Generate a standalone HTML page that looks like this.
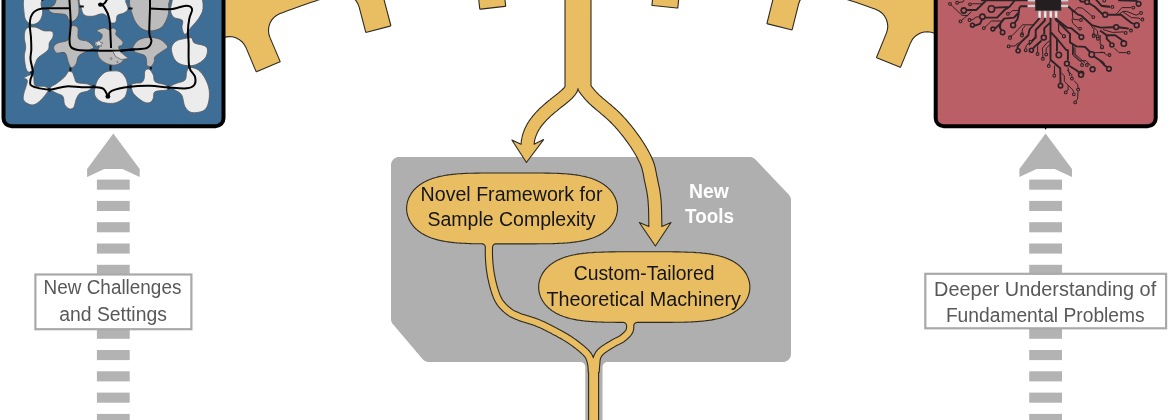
<!DOCTYPE html>
<html><head><meta charset="utf-8"><style>
html,body{margin:0;padding:0;background:#fff;}
svg{display:block;will-change:transform;}
text{font-family:"Liberation Sans",sans-serif;}
</style></head><body>
<svg width="1170" height="420" viewBox="0 0 1170 420">
<rect width="1170" height="420" fill="#fff"/>
<!-- gray tools box -->
<path d="M397.2 157.2 L396.2 157.5 L395.7 157.7 L394.8 158.2 L394.4 158.5 L393.5 159.2 L393.2 159.5 L392.5 160.4 L392.2 160.8 L391.7 161.7 L391.5 162.2 L391.2 163.2 L391.1 163.7 L391.0 164.9 L391.0 165.1 L391.0 318.9 L391.0 319.2 L391.1 320.2 L391.2 320.7 L391.4 321.6 L391.6 322.0 L392.0 322.9 L392.2 323.3 L392.8 324.2 L393.0 324.3 L422.5 359.1 L422.7 359.3 L423.7 360.2 L424.1 360.5 L425.1 361.1 L425.6 361.3 L426.7 361.7 L427.2 361.8 L428.6 362.0 L428.8 362.0 L580.3 362.0 L581.3 362.1 L582.2 362.4 L583.1 362.8 L583.8 363.5 L584.5 364.2 L584.9 365.1 L585.2 366.0 L585.3 367.0 L585.3 425.0 L602.5 425.0 L602.5 367.0 L602.6 366.0 L602.9 365.1 L603.3 364.2 L604.0 363.5 L604.7 362.8 L605.6 362.4 L606.5 362.1 L607.5 362.0 L782.9 362.0 L783.1 362.0 L784.3 361.9 L784.8 361.8 L785.8 361.5 L786.3 361.3 L787.2 360.8 L787.6 360.5 L788.5 359.8 L788.8 359.5 L789.5 358.6 L789.8 358.2 L790.3 357.3 L790.5 356.8 L790.8 355.8 L790.9 355.3 L791.0 354.1 L791.0 353.9 L791.0 200.3 L791.0 200.1 L790.9 198.9 L790.8 198.5 L790.5 197.5 L790.3 197.0 L789.8 196.1 L789.6 195.7 L788.9 194.8 L788.7 194.6 L755.5 159.6 L755.3 159.4 L754.3 158.6 L753.9 158.3 L752.9 157.8 L752.5 157.6 L751.4 157.2 L750.9 157.1 L749.7 157.0 L749.4 157.0 L399.1 157.0 L398.9 157.0 L397.7 157.1Z" fill="#afafaf"/>
<!-- gear + top branches -->
<path d="M154.5 73.6 L154.6 73.5 L159.0 71.0 L159.1 70.9 L163.6 68.4 L163.7 68.3 L168.1 65.8 L168.2 65.8 L172.7 63.3 L172.8 63.2 L177.3 60.8 L177.4 60.7 L181.9 58.3 L182.0 58.2 L186.5 55.8 L186.6 55.8 L191.1 53.4 L191.2 53.4 L195.8 51.0 L195.9 51.0 L200.4 48.7 L200.5 48.6 L205.1 46.3 L205.2 46.3 L209.8 44.0 L209.9 44.0 L214.5 41.7 L214.6 41.7 L219.2 39.5 L219.3 39.4 L221.7 38.3 L225.1 37.1 L228.7 36.6 L232.3 36.8 L235.8 37.8 L239.0 39.4 L241.9 41.7 L244.2 44.4 L246.0 47.6 L255.9 71.1 L256.3 71.8 L257.1 71.5 L279.4 62.1 L280.1 61.7 L279.9 60.9 L269.9 37.4 L268.8 34.0 L268.5 30.4 L268.8 26.8 L269.9 23.3 L271.6 20.2 L274.0 17.4 L276.8 15.2 L280.0 13.6 L281.8 12.9 L281.9 12.9 L286.7 11.1 L286.8 11.0 L291.6 9.3 L291.7 9.2 L296.5 7.5 L296.6 7.4 L301.4 5.7 L301.5 5.7 L306.3 4.0 L306.4 4.0 L311.3 2.3 L311.4 2.3 L316.3 0.7 L316.4 0.6 L321.2 -0.9 L321.3 -1.0 L326.2 -2.5 L326.3 -2.6 L331.2 -4.1 L331.3 -4.1 L334.1 -5.0 L150.0 -5.0 L150.0 75.4 L150.1 76.1 L150.7 75.8ZM350.5 -4.2 L353.4 -2.1 L355.9 0.5 L357.8 3.6 L359.1 6.9 L365.6 31.6 L365.9 32.4 L366.7 32.3 L390.1 26.1 L390.8 25.8 L390.7 25.0 L384.2 0.3 L383.7 -3.2 L383.7 -5.0 L348.6 -5.0ZM479.7 8.4 L479.9 9.2 L480.7 9.1 L504.8 6.4 L505.6 6.3 L505.6 5.4 L504.4 -5.0 L478.2 -5.0ZM565.0 70.0 L565.0 86.6 L564.9 86.7 L564.6 87.1 L564.3 87.5 L563.9 88.0 L563.4 88.5 L562.9 89.0 L562.4 89.5 L561.7 90.1 L561.1 90.7 L560.3 91.4 L559.6 92.0 L558.8 92.7 L557.9 93.4 L557.0 94.1 L556.1 94.8 L555.2 95.6 L554.2 96.3 L553.2 97.1 L552.2 97.9 L552.2 97.9 L551.1 98.7 L551.1 98.8 L550.1 99.6 L550.1 99.6 L549.0 100.4 L549.0 100.5 L547.9 101.3 L547.9 101.4 L546.8 102.2 L546.8 102.3 L545.7 103.2 L545.7 103.2 L544.6 104.1 L544.6 104.1 L543.5 105.1 L543.5 105.1 L542.4 106.1 L542.4 106.1 L541.3 107.1 L541.2 107.1 L540.2 108.1 L540.1 108.2 L539.1 109.2 L539.0 109.2 L538.0 110.3 L537.9 110.3 L536.9 111.4 L536.8 111.5 L535.9 112.5 L535.8 112.6 L534.8 113.7 L534.7 113.8 L533.8 114.9 L533.7 115.0 L532.7 116.1 L532.7 116.2 L531.8 117.3 L531.7 117.5 L530.8 118.6 L530.7 118.8 L529.8 120.0 L529.7 120.1 L528.9 121.3 L528.8 121.5 L528.1 122.7 L528.0 122.8 L527.2 124.1 L527.1 124.3 L526.4 125.6 L526.3 125.7 L525.7 127.0 L525.6 127.2 L524.9 128.6 L524.8 128.8 L524.3 130.1 L524.2 130.3 L523.7 131.7 L523.6 131.9 L523.1 133.3 L523.0 133.6 L522.6 135.0 L522.5 135.3 L522.2 136.7 L522.1 137.0 L521.8 138.4 L521.7 138.7 L521.5 140.2 L521.4 140.5 L521.3 142.0 L521.2 142.3 L521.1 143.9 L521.1 144.1 L521.1 144.3 L521.0 144.3 L511.9 140.0 L526.4 162.5 L543.6 139.6 L534.1 144.2 L534.2 143.5 L534.3 142.3 L534.5 141.0 L534.8 139.8 L535.1 138.6 L535.5 137.4 L535.9 136.2 L536.3 135.1 L536.8 133.9 L537.3 132.8 L537.9 131.7 L538.5 130.6 L539.1 129.5 L539.8 128.5 L540.5 127.4 L541.2 126.4 L542.0 125.3 L542.8 124.3 L543.6 123.3 L544.5 122.3 L545.4 121.3 L546.3 120.4 L547.2 119.4 L548.2 118.5 L549.1 117.6 L550.1 116.6 L551.1 115.7 L552.1 114.8 L553.1 114.0 L554.1 113.1 L555.1 112.2 L556.2 111.4 L557.2 110.6 L558.2 109.7 L559.2 108.9 L560.2 108.1 L561.2 107.3 L562.2 106.5 L563.2 105.8 L563.2 105.8 L564.2 105.0 L564.2 105.0 L565.1 104.2 L565.2 104.2 L566.1 103.5 L566.1 103.5 L567.0 102.7 L567.0 102.7 L567.9 102.0 L567.9 101.9 L568.8 101.2 L568.8 101.2 L569.6 100.5 L569.7 100.4 L570.5 99.8 L570.5 99.7 L571.3 99.0 L571.4 98.9 L572.0 98.3 L572.2 98.1 L572.8 97.5 L572.9 97.4 L573.5 96.7 L573.7 96.5 L574.2 95.9 L574.4 95.7 L574.9 95.1 L575.1 94.8 L575.5 94.2 L575.7 93.9 L576.1 93.3 L576.3 93.0 L576.7 92.4 L576.9 92.0 L577.1 91.4 L577.4 90.9 L577.6 90.3 L577.9 89.2 L578.0 88.5 L578.0 88.5 L578.1 89.1 L578.4 90.2 L578.9 91.3 L579.5 92.2 L579.7 92.4 L579.9 92.7 L580.2 93.0 L580.5 93.4 L580.8 93.8 L581.2 94.3 L581.2 94.3 L581.6 94.8 L581.6 94.9 L582.0 95.4 L582.1 95.4 L582.5 96.0 L582.5 96.0 L583.0 96.6 L583.1 96.7 L583.6 97.3 L583.6 97.3 L584.2 98.0 L584.2 98.1 L584.8 98.7 L584.8 98.8 L585.4 99.5 L585.5 99.5 L586.2 100.3 L586.2 100.3 L586.9 101.1 L587.0 101.1 L587.7 101.9 L587.8 102.0 L588.6 102.8 L588.6 102.8 L589.4 103.6 L589.5 103.7 L590.4 104.6 L590.5 104.6 L591.5 105.5 L591.5 105.6 L592.6 106.5 L592.6 106.5 L593.7 107.5 L593.8 107.5 L594.9 108.5 L594.9 108.5 L596.1 109.5 L596.1 109.6 L597.4 110.6 L597.4 110.6 L598.7 111.7 L599.9 112.7 L601.2 113.8 L602.5 114.9 L603.8 116.0 L605.1 117.1 L606.3 118.2 L607.6 119.3 L608.7 120.4 L609.9 121.5 L610.9 122.5 L611.9 123.5 L612.9 124.6 L613.9 125.7 L614.9 126.7 L615.9 127.8 L616.9 128.9 L617.9 130.1 L618.8 131.2 L619.8 132.3 L620.7 133.5 L621.6 134.6 L622.5 135.7 L623.4 136.9 L624.3 138.0 L625.1 139.1 L626.0 140.3 L626.8 141.4 L627.6 142.5 L628.4 143.6 L629.2 144.7 L629.9 145.8 L630.7 146.9 L631.4 148.0 L632.1 149.1 L632.8 150.2 L633.5 151.2 L634.1 152.3 L634.8 153.4 L635.4 154.5 L636.0 155.5 L636.6 156.6 L637.2 157.6 L637.7 158.6 L638.2 159.7 L638.7 160.7 L639.2 161.7 L639.7 162.6 L640.1 163.6 L640.5 164.5 L640.9 165.4 L641.2 166.3 L641.5 167.1 L641.8 167.9 L642.0 168.7 L642.2 169.5 L642.4 170.4 L642.6 171.2 L642.8 172.0 L643.0 172.8 L643.2 173.7 L643.4 174.6 L643.5 175.5 L643.7 176.4 L643.9 177.3 L643.9 177.3 L644.0 178.3 L644.0 178.3 L644.2 179.2 L644.2 179.3 L644.4 180.3 L644.4 180.3 L644.6 181.3 L644.6 181.4 L644.9 182.3 L644.9 182.4 L645.1 183.3 L645.1 183.4 L645.3 184.3 L645.5 185.3 L645.7 186.3 L645.9 187.2 L646.1 188.2 L646.3 189.2 L646.5 190.1 L646.7 191.1 L646.9 192.1 L647.0 193.0 L647.2 194.1 L647.4 195.1 L647.5 196.1 L647.7 197.2 L647.8 198.3 L647.9 199.4 L648.0 200.6 L648.1 201.8 L648.2 203.2 L648.3 204.6 L648.4 206.2 L648.5 207.8 L648.5 209.4 L648.6 211.1 L648.6 212.8 L648.7 214.5 L648.7 216.2 L648.7 217.9 L648.7 219.5 L648.8 221.1 L648.8 222.5 L648.8 223.9 L648.8 225.2 L648.8 225.2 L648.9 226.3 L648.9 226.3 L648.9 226.6 L639.3 222.5 L655.4 246.0 L671.0 222.5 L661.9 226.6 L661.9 226.1 L661.8 225.0 L661.8 223.7 L661.8 222.3 L661.8 220.9 L661.7 219.3 L661.7 219.3 L661.7 217.7 L661.7 217.7 L661.7 216.0 L661.7 216.0 L661.6 214.3 L661.6 214.2 L661.6 212.5 L661.6 212.5 L661.6 210.8 L661.6 210.7 L661.5 209.0 L661.5 209.0 L661.4 207.3 L661.4 207.2 L661.4 205.6 L661.4 205.5 L661.3 203.9 L661.3 203.9 L661.2 202.4 L661.2 202.3 L661.1 200.9 L661.1 200.8 L661.0 199.5 L661.0 199.4 L660.8 198.1 L660.8 198.0 L660.7 196.8 L660.7 196.8 L660.6 195.6 L660.5 195.5 L660.4 194.4 L660.4 194.3 L660.2 193.2 L660.2 193.1 L660.0 192.0 L660.0 192.0 L659.9 190.9 L659.8 190.8 L659.7 189.8 L659.7 189.7 L659.5 188.7 L659.5 188.7 L659.3 187.6 L659.3 187.6 L659.1 186.6 L659.0 186.6 L658.8 185.6 L658.8 185.5 L658.6 184.6 L658.6 184.5 L658.4 183.6 L658.4 183.5 L658.2 182.6 L658.0 181.6 L657.8 180.6 L657.6 179.6 L657.4 178.7 L657.2 177.7 L657.0 176.8 L656.8 175.9 L656.6 175.0 L656.5 174.0 L656.3 173.1 L656.3 173.1 L656.1 172.2 L656.1 172.1 L655.9 171.2 L655.9 171.2 L655.7 170.2 L655.7 170.2 L655.5 169.3 L655.5 169.2 L655.3 168.3 L655.3 168.2 L655.1 167.2 L655.0 167.1 L654.8 166.2 L654.8 166.1 L654.5 165.1 L654.5 165.0 L654.2 164.1 L654.1 163.9 L653.8 163.0 L653.8 162.8 L653.4 161.8 L653.4 161.7 L653.0 160.7 L652.9 160.6 L652.5 159.5 L652.5 159.4 L652.0 158.4 L652.0 158.3 L651.5 157.3 L651.5 157.2 L651.0 156.1 L650.9 156.0 L650.4 155.0 L650.4 154.9 L649.8 153.8 L649.8 153.7 L649.2 152.6 L649.2 152.6 L648.6 151.5 L648.6 151.4 L648.0 150.3 L648.0 150.2 L647.3 149.1 L647.3 149.1 L646.7 148.0 L646.6 147.9 L646.0 146.8 L645.9 146.7 L645.2 145.6 L645.2 145.5 L644.5 144.4 L644.5 144.4 L643.8 143.2 L643.7 143.2 L643.0 142.0 L643.0 142.0 L642.2 140.9 L642.2 140.8 L641.5 139.7 L641.4 139.6 L640.7 138.5 L640.6 138.4 L639.9 137.3 L639.8 137.3 L639.0 136.1 L639.0 136.1 L638.2 134.9 L638.2 134.9 L637.3 133.8 L637.3 133.7 L636.4 132.6 L636.4 132.5 L635.5 131.3 L635.5 131.3 L634.6 130.1 L634.6 130.1 L633.7 128.9 L633.7 128.9 L632.7 127.7 L632.7 127.7 L631.8 126.5 L631.7 126.4 L630.8 125.3 L630.8 125.2 L629.8 124.1 L629.8 124.0 L628.8 122.8 L628.7 122.8 L627.8 121.6 L627.7 121.6 L626.7 120.4 L626.7 120.4 L625.7 119.2 L625.6 119.2 L624.6 118.0 L624.5 118.0 L623.5 116.8 L623.5 116.8 L622.4 115.7 L622.4 115.6 L621.3 114.5 L621.2 114.4 L620.1 113.3 L620.0 113.2 L618.9 112.1 L618.8 112.0 L617.6 110.9 L617.6 110.8 L616.3 109.7 L616.3 109.7 L615.0 108.5 L614.9 108.5 L613.7 107.3 L613.6 107.3 L612.3 106.2 L612.3 106.2 L611.0 105.0 L610.9 105.0 L609.6 103.9 L609.6 103.9 L608.3 102.8 L608.3 102.8 L607.0 101.7 L605.7 100.6 L604.5 99.6 L603.3 98.6 L602.2 97.7 L601.2 96.7 L600.2 95.9 L599.3 95.1 L598.5 94.3 L597.8 93.6 L597.1 92.9 L596.4 92.2 L595.8 91.5 L595.2 90.8 L594.6 90.2 L594.1 89.6 L593.6 89.0 L593.1 88.4 L592.7 87.9 L592.3 87.4 L591.9 86.9 L591.5 86.4 L591.1 85.9 L591.0 85.7 L591.0 70.0 L591.0 -5.0 L565.0 -5.0ZM652.0 4.6 L652.0 5.4 L652.8 5.5 L676.9 8.0 L677.7 8.0 L677.9 7.2 L679.1 -5.0 L653.0 -5.0ZM773.3 -2.0 L767.1 22.8 L767.0 23.6 L767.7 23.9 L791.2 29.7 L792.0 29.9 L792.3 29.1 L798.5 4.3 L799.7 0.9 L801.6 -2.2 L804.1 -4.8 L804.3 -5.0 L773.7 -5.0ZM835.8 -4.1 L835.9 -4.1 L840.8 -2.6 L840.9 -2.5 L845.8 -1.0 L845.9 -0.9 L850.8 0.6 L850.9 0.7 L855.7 2.3 L855.8 2.3 L860.7 4.0 L860.8 4.0 L865.6 5.7 L865.7 5.7 L870.5 7.4 L870.6 7.5 L875.5 9.2 L875.6 9.3 L876.0 9.4 L879.2 11.0 L882.1 13.2 L884.5 15.9 L886.2 19.0 L887.3 22.5 L887.8 26.1 L887.4 29.6 L886.4 33.1 L876.8 56.8 L876.5 57.5 L877.3 57.9 L899.7 67.1 L900.5 67.3 L900.8 66.6 L910.5 42.9 L912.2 39.7 L914.5 36.9 L917.3 34.7 L920.5 33.0 L924.0 32.0 L927.6 31.7 L931.2 32.2 L934.6 33.3 L938.3 35.0 L938.4 35.1 L943.1 37.2 L943.2 37.3 L947.8 39.4 L947.9 39.5 L952.5 41.7 L952.6 41.7 L957.2 44.0 L957.3 44.0 L961.9 46.3 L962.0 46.3 L966.6 48.6 L966.7 48.7 L971.2 51.0 L971.3 51.0 L975.9 53.4 L976.0 53.4 L980.5 55.8 L980.6 55.8 L985.1 58.2 L985.2 58.3 L989.7 60.7 L989.8 60.8 L994.3 63.2 L994.4 63.3 L998.9 65.8 L999.0 65.8 L1003.5 68.3 L1003.6 68.4 L1008.0 70.9 L1008.1 71.0 L1009.3 71.6 L1009.9 71.9 L1010.0 71.2 L1010.0 -5.0 L833.0 -5.0Z" fill="#e9bd62" stroke="#2e2a22" stroke-width="1.1" stroke-linejoin="round"/>
<!-- left box -->
<g>
<clipPath id="cl"><rect x="3.5" y="-20" width="220" height="146.2" rx="8"/></clipPath>
<rect x="3.5" y="-20" width="220" height="146.2" rx="8" fill="#3e6e96"/>
<g clip-path="url(#cl)">
<path d="M24.9 -3.0 C22.2 -0.3 23.8 9.0 24.1 13.0 C24.4 17.0 25.0 19.2 26.5 21.1 C28.0 23.0 30.8 24.4 33.0 24.4 C35.2 24.4 37.9 23.0 39.5 21.1 C41.1 19.2 42.4 15.7 42.7 13.0 C43.0 10.3 41.5 7.6 41.1 4.9 C40.7 2.2 43.0 -1.7 40.3 -3.0 C37.6 -4.3 27.6 -5.7 24.9 -3.0Z" fill="#ececec" stroke="#5a5a5a" stroke-width="0.8"/>
<path d="M82.5 -3.0 C75.5 -0.9 81.3 6.6 81.7 9.7 C82.1 12.8 83.1 14.3 85.0 15.4 C86.9 16.5 90.3 16.5 93.1 16.2 C95.9 15.9 99.6 13.7 102.0 13.8 C104.4 13.9 106.2 15.5 107.7 17.0 C109.2 18.5 109.6 21.9 110.9 22.7 C112.2 23.5 114.7 23.1 115.8 21.9 C116.9 20.7 116.1 16.9 117.4 15.4 C118.8 13.9 122.1 14.1 123.9 13.0 C125.7 11.9 127.7 10.8 128.0 8.9 C128.3 7.0 126.3 3.6 125.6 1.6 C124.9 -0.4 131.2 -2.2 124.0 -3.0 C116.8 -3.8 89.5 -5.1 82.5 -3.0Z" fill="#ececec" stroke="#5a5a5a" stroke-width="0.8"/>
<path d="M171.5 4.0 C170.6 6.5 170.4 9.8 170.8 12.0 C171.2 14.2 172.1 16.1 174.0 17.5 C175.9 18.9 181.1 18.7 182.4 20.4 C183.7 22.1 181.6 25.2 182.0 27.5 C182.4 29.8 183.4 34.4 185.0 34.3 C186.6 34.2 189.1 29.7 191.4 27.1 C193.7 24.5 196.7 21.7 198.6 18.6 C200.5 15.5 202.9 12.2 203.0 8.6 C203.1 5.0 203.8 -1.1 199.3 -3.0 C194.8 -4.9 180.6 -4.2 176.0 -3.0 C171.4 -1.8 172.4 1.5 171.5 4.0Z" fill="#ececec" stroke="#5a5a5a" stroke-width="0.8"/>
<path d="M26.4 28.6 C28.2 26.9 32.1 26.8 35.0 27.1 C37.9 27.5 40.8 30.0 43.6 30.7 C46.5 31.4 50.6 30.3 52.1 31.4 C53.6 32.5 53.4 35.2 52.9 37.1 C52.4 39.0 50.1 40.8 49.3 42.9 C48.5 45.0 49.9 47.5 48.0 50.0 C46.1 52.5 40.4 55.4 38.2 57.7 C36.1 60.0 36.2 61.6 35.1 63.9 C34.0 66.2 32.7 70.7 31.3 71.7 C29.9 72.7 27.8 72.5 26.6 70.1 C25.4 67.7 24.5 60.9 24.3 57.1 C24.1 53.3 25.7 50.4 25.7 47.1 C25.7 43.8 24.2 40.2 24.3 37.1 C24.4 34.0 24.6 30.3 26.4 28.6Z" fill="#ececec" stroke="#5a5a5a" stroke-width="0.8"/>
<path d="M171.4 48.6 C171.5 45.5 173.5 43.1 175.7 41.4 C177.8 39.7 181.7 39.2 184.3 38.6 C186.9 38.0 189.7 37.2 191.4 37.9 C193.1 38.6 192.2 41.6 194.3 42.9 C196.5 44.2 202.1 44.5 204.3 45.7 C206.5 46.9 207.4 47.9 207.5 50.0 C207.6 52.1 207.1 55.8 205.0 58.3 C202.9 60.8 198.6 63.9 195.0 65.0 C191.4 66.1 186.6 65.8 183.3 65.0 C180.0 64.2 177.0 62.7 175.0 60.0 C173.0 57.3 171.3 51.7 171.4 48.6Z" fill="#ececec" stroke="#5a5a5a" stroke-width="0.8"/>
<path d="M30.5 74.8 C32.0 74.5 32.8 74.5 33.6 76.3 C34.4 78.1 33.3 83.9 35.1 85.6 C36.9 87.3 42.2 85.6 44.4 86.4 C46.6 87.2 49.1 87.8 48.3 90.2 C47.5 92.7 42.5 98.6 39.8 101.1 C37.1 103.6 34.6 105.0 32.0 105.0 C29.4 105.0 25.7 102.8 24.3 101.1 C22.9 99.4 23.0 98.2 23.5 94.9 C24.0 91.6 27.3 83.8 27.4 81.0 C27.5 78.2 23.8 78.9 24.3 77.9 C24.8 76.9 28.9 75.1 30.5 74.8Z" fill="#ececec" stroke="#5a5a5a" stroke-width="0.8"/>
<path d="M50.6 87.2 C51.5 86.0 54.5 85.0 56.8 83.3 C59.1 81.6 62.6 79.0 64.5 77.1 C66.4 75.2 67.1 72.5 68.4 71.7 C69.7 70.9 71.3 71.4 72.3 72.4 C73.3 73.4 73.8 76.2 74.6 77.9 C75.4 79.6 74.7 81.5 76.9 82.5 C79.1 83.5 85.3 83.3 87.8 84.1 C90.2 84.9 91.6 86.0 91.6 87.2 C91.6 88.4 89.7 90.0 87.8 91.0 C85.9 92.0 82.0 91.9 80.0 93.3 C78.0 94.7 77.1 97.2 76.1 99.5 C75.1 101.8 74.9 105.8 73.8 107.3 C72.7 108.8 70.8 109.3 69.2 108.8 C67.7 108.3 65.5 106.3 64.5 104.2 C63.5 102.1 64.3 98.2 63.0 96.4 C61.7 94.6 58.7 94.3 56.8 93.3 C54.9 92.3 52.4 91.2 51.4 90.2 C50.4 89.2 49.7 88.4 50.6 87.2Z" fill="#ececec" stroke="#5a5a5a" stroke-width="0.8"/>
<path d="M95.5 85.6 C96.2 82.9 97.0 80.8 98.6 78.6 C100.1 76.4 102.6 73.7 104.8 72.4 C107.0 71.1 109.2 71.1 111.7 71.0 C114.2 70.9 117.7 70.5 120.0 71.7 C122.3 72.9 124.5 75.8 125.8 78.3 C127.0 80.8 127.6 83.6 127.5 86.7 C127.4 89.8 126.8 94.1 125.0 96.7 C123.2 99.3 119.5 101.4 116.7 102.5 C113.9 103.6 111.1 103.5 108.3 103.3 C105.5 103.1 102.4 102.5 100.1 101.1 C97.8 99.7 95.5 97.5 94.7 94.9 C93.9 92.3 94.8 88.3 95.5 85.6Z" fill="#ececec" stroke="#5a5a5a" stroke-width="0.8"/>
<path d="M131.7 85.0 C132.0 83.3 133.3 83.7 135.0 83.3 C136.7 82.9 140.2 83.3 141.7 82.5 C143.2 81.7 143.6 80.2 144.2 78.3 C144.8 76.3 144.2 72.3 145.0 70.8 C145.8 69.3 147.8 68.5 149.2 69.2 C150.6 69.9 152.3 72.9 153.3 75.0 C154.3 77.1 153.3 80.2 155.0 81.7 C156.7 83.2 161.1 83.4 163.3 84.2 C165.5 85.0 167.7 85.7 168.3 86.7 C168.9 87.7 168.9 89.2 166.7 90.0 C164.5 90.8 157.2 90.3 155.0 91.7 C152.8 93.1 154.1 96.5 153.3 98.3 C152.5 100.1 151.7 101.9 150.0 102.5 C148.3 103.1 146.1 103.2 143.3 101.7 C140.5 100.2 135.2 96.1 133.3 93.3 C131.4 90.5 131.4 86.7 131.7 85.0Z" fill="#ececec" stroke="#5a5a5a" stroke-width="0.8"/>
<path d="M170.0 86.7 C170.3 85.6 174.2 84.4 176.7 83.3 C179.2 82.2 183.3 81.9 185.0 80.0 C186.7 78.1 185.9 73.8 186.7 71.7 C187.5 69.6 188.1 67.8 190.0 67.5 C191.9 67.2 195.8 68.2 198.3 70.0 C200.8 71.8 203.2 75.0 205.0 78.3 C206.8 81.6 208.6 85.8 209.2 90.0 C209.8 94.2 209.3 99.8 208.3 103.3 C207.3 106.8 206.1 109.3 203.3 110.8 C200.5 112.3 194.8 113.2 191.7 112.5 C188.6 111.8 186.7 109.6 185.0 106.7 C183.3 103.8 183.4 97.8 181.7 95.0 C180.0 92.2 176.9 91.4 175.0 90.0 C173.1 88.6 169.7 87.8 170.0 86.7Z" fill="#ececec" stroke="#5a5a5a" stroke-width="0.8"/>
<path d="M48.4 8.1 C48.1 9.4 49.6 11.9 52.5 13.0 C55.4 14.1 62.8 13.5 65.5 14.6 C68.2 15.7 67.4 18.4 68.7 19.5 C70.0 20.6 72.0 21.9 73.6 21.1 C75.2 20.3 77.7 17.6 78.5 14.6 C79.3 11.6 79.0 6.1 78.5 3.2 C78.0 0.3 78.5 -2.0 75.2 -3.0 C72.0 -4.0 62.5 -4.3 59.0 -3.0 C55.5 -1.7 55.9 3.1 54.1 4.9 C52.3 6.8 48.7 6.8 48.4 8.1Z" fill="#bcbcbc" stroke="#555" stroke-width="0.8"/>
<path d="M132.0 -3.0 C126.5 0.2 131.5 11.1 132.9 16.2 C134.3 21.3 137.4 25.2 140.2 27.6 C143.0 30.1 146.4 30.9 149.9 30.9 C153.4 30.9 158.3 30.1 161.3 27.6 C164.3 25.2 166.6 20.0 167.8 16.2 C169.0 12.4 168.9 8.1 168.6 4.9 C168.3 1.7 172.3 -1.7 166.2 -3.0 C160.1 -4.3 137.6 -6.2 132.0 -3.0Z" fill="#bcbcbc" stroke="#555" stroke-width="0.8"/>
<path d="M72.1 25.7 C73.5 25.3 76.8 25.8 77.9 27.9 C79.0 30.0 76.9 36.4 78.6 38.6 C80.3 40.9 85.4 40.0 87.9 41.4 C90.4 42.8 93.1 45.8 93.6 47.1 C94.1 48.4 92.2 48.4 90.7 49.3 C89.2 50.2 86.7 51.1 84.7 52.3 C82.7 53.4 79.9 54.3 78.5 56.2 C77.1 58.1 77.3 62.0 76.1 63.9 C74.9 65.8 72.8 68.0 71.5 67.8 C70.2 67.5 69.5 64.9 68.4 62.4 C67.3 59.9 67.0 54.5 65.0 52.9 C63.0 51.3 58.3 53.9 56.4 52.9 C54.5 51.9 53.4 48.8 53.6 47.1 C53.9 45.4 55.5 44.1 57.9 42.9 C60.3 41.7 66.0 42.1 67.9 40.0 C69.8 37.9 68.6 32.4 69.3 30.0 C70.0 27.6 70.7 26.1 72.1 25.7Z" fill="#bcbcbc" stroke="#555" stroke-width="0.8"/>
<path d="M132.9 47.1 C133.6 45.2 136.0 41.6 138.6 40.0 C141.2 38.4 145.0 37.5 148.6 37.4 C152.2 37.3 156.9 37.9 160.0 39.3 C163.1 40.7 166.0 44.2 167.1 45.7 C168.2 47.2 167.6 47.3 166.7 48.3 C165.8 49.3 163.6 50.3 161.7 51.7 C159.8 53.1 156.2 55.0 155.0 56.7 C153.8 58.4 154.9 60.0 154.2 61.7 C153.5 63.4 152.1 66.2 150.8 66.7 C149.6 67.2 147.4 65.8 146.7 65.0 C146.0 64.2 147.0 63.2 146.7 61.7 C146.4 60.2 146.4 57.2 145.0 55.8 C143.6 54.4 140.1 54.0 138.3 53.3 C136.5 52.6 135.2 52.4 134.3 51.4 C133.4 50.4 132.2 49.0 132.9 47.1Z" fill="#bcbcbc" stroke="#555" stroke-width="0.8"/>
<path d="M96.8 30.5 C97.2 29.4 102.5 28.0 104.6 27.9 C106.7 27.8 107.8 29.8 109.2 29.8 C110.6 29.8 111.9 27.8 113.1 27.9 C114.3 28.0 116.0 29.4 116.4 30.5 C116.9 31.6 115.2 33.1 115.8 34.4 C116.3 35.7 118.5 37.0 119.7 38.3 C120.9 39.6 122.7 41.1 123.0 42.3 C123.3 43.5 122.3 44.9 121.6 45.5 C120.9 46.1 119.4 45.7 119.0 46.2 C118.6 46.8 118.6 47.5 119.0 48.8 C119.4 50.1 120.1 52.4 121.6 54.0 C123.1 55.6 127.7 57.7 128.2 58.6 C128.6 59.5 125.6 58.5 124.3 59.3 C123.0 60.1 122.0 62.2 120.3 63.2 C118.5 64.2 116.2 65.2 113.8 65.2 C111.4 65.2 108.3 64.4 105.9 63.2 C103.5 62.0 100.8 60.0 99.4 58.0 C98.0 56.0 97.4 53.4 97.4 51.4 C97.4 49.4 99.8 47.3 99.4 46.2 C99.0 45.1 95.3 45.7 94.8 44.9 C94.2 44.1 95.1 42.5 96.1 41.6 C97.1 40.7 99.7 40.8 100.7 39.6 C101.7 38.4 102.7 35.9 102.0 34.4 C101.3 32.9 96.4 31.6 96.8 30.5Z" fill="#bcbcbc" stroke="#555" stroke-width="0.8"/>
<path d="M70.0 8.3 C67.5 8.3 59.7 8.1 55.0 8.2 C50.3 8.2 45.4 8.0 42.0 8.6 C38.6 9.2 36.4 10.1 34.5 11.5 C32.6 12.9 31.6 14.7 30.8 17.0 C30.0 19.3 29.8 22.0 29.8 25.5 C29.8 29.0 30.8 33.9 31.0 38.0 C31.2 42.1 31.4 46.5 31.3 50.0 C31.2 53.5 30.2 55.7 30.5 59.3 C30.8 62.9 32.8 68.3 32.8 71.7 C32.8 75.1 30.9 77.2 30.5 79.4 C30.1 81.6 29.7 83.5 30.5 84.8 C31.3 86.1 32.0 86.4 35.1 87.2 C38.2 88.0 43.9 89.6 49.1 89.5 C54.3 89.4 60.7 86.8 66.1 86.4 C71.5 86.0 76.9 87.1 81.6 87.2 C86.2 87.3 90.4 87.0 94.0 87.2 C97.6 87.5 100.9 87.2 103.2 88.7 C105.5 90.2 107.1 95.1 107.9 96.4" fill="none" stroke="#000" stroke-width="2.0"/>
<path d="M107.9 96.4 C108.5 95.5 108.0 92.4 111.7 90.8 C115.4 89.2 123.6 87.5 130.0 86.7 C136.4 85.9 143.6 85.7 150.0 85.8 C156.4 85.9 162.2 87.1 168.3 87.5 C174.4 87.9 182.4 88.7 186.7 88.3 C191.0 87.9 192.8 86.9 194.2 85.0 C195.6 83.1 195.8 79.8 195.0 76.7 C194.2 73.7 190.3 72.3 189.2 66.7 C188.1 61.1 188.8 48.8 188.6 42.9 C188.4 37.0 187.8 35.4 187.9 31.4 C188.0 27.3 188.6 22.3 189.3 18.6 C190.0 14.9 192.5 11.5 192.1 9.3 C191.7 7.2 189.6 5.9 187.1 5.7 C184.6 5.5 179.9 7.3 177.1 7.9 C174.2 8.5 174.5 9.2 170.0 9.3 C165.5 9.4 153.3 8.7 150.0 8.6" fill="none" stroke="#000" stroke-width="2.0"/>
<path d="M69.3 -2.0 C69.4 -0.2 69.8 4.1 70.0 8.6 C70.2 13.1 70.8 19.8 70.7 25.0 C70.6 30.2 69.5 36.3 69.5 40.0 C69.5 43.7 69.6 45.3 71.0 47.0 C72.4 48.7 74.0 49.4 78.0 50.0 C82.0 50.6 89.7 50.4 95.0 50.5 C100.3 50.6 106.1 50.8 110.0 50.8 C113.9 50.8 114.3 51.0 118.6 50.7 C122.9 50.5 130.9 49.8 135.7 49.3 C140.4 48.8 144.5 49.2 147.1 47.9 C149.7 46.6 151.0 43.9 151.4 41.4 C151.8 38.9 149.5 38.4 149.3 32.9 C149.1 27.4 149.9 14.4 150.0 8.6 C150.1 2.8 150.0 -0.2 150.0 -2.0" fill="none" stroke="#000" stroke-width="2.0"/>
<path d="M107.9 -2.0 C107.3 -1.1 105.6 2.4 104.3 3.5 C103.0 4.6 101.0 4.4 100.3 4.6" fill="none" stroke="#000" stroke-width="2.0"/>
<path d="M100.3 4.6 C101.0 5.0 102.8 4.8 104.3 7.1 C105.8 9.4 108.2 13.1 109.3 18.6 C110.4 24.1 110.4 35.1 110.7 40.0 C111.0 44.9 111.0 46.8 111.0 48.1" fill="none" stroke="#000" stroke-width="2.0"/>
<path d="M118.4 51.4 C119.7 51.2 123.2 50.3 126.0 50.0 C128.8 49.7 133.5 49.6 135.0 49.5" fill="none" stroke="#000" stroke-width="2.0"/>
<path d="M79.5 6.4L83.8 6.4" stroke="#111" stroke-width="2"/>
<path d="M128.3 8.6L132.5 8.6" stroke="#111" stroke-width="2"/>
<path d="M30.5 71.5L32.5 74.2" stroke="#111" stroke-width="2"/>
<path d="M48.6 88.2L49.8 91.7" stroke="#111" stroke-width="2"/>
<path d="M70.4 67.5L70.4 71.2" stroke="#111" stroke-width="2"/>
<path d="M92.5 85.9L95.2 86.3" stroke="#111" stroke-width="2"/>
<path d="M110.5 65.2L110.5 70.5" stroke="#111" stroke-width="2"/>
<path d="M129.5 85.4L130.6 88.3" stroke="#111" stroke-width="2"/>
<path d="M167.5 86L168.8 89.2" stroke="#111" stroke-width="2"/>
<path d="M189.2 65.6L189.6 68.2" stroke="#111" stroke-width="2"/>
<path d="M150.8 66.7L150.8 69.5" stroke="#111" stroke-width="2"/>
<path d="M41.7 0L43.3 0" stroke="#111" stroke-width="2"/>
<path d="M29.8 24.8L29.9 27.6" stroke="#111" stroke-width="2"/>
<circle cx="100.3" cy="4.6" r="2.2" fill="#000"/>
<circle cx="107.9" cy="96.4" r="2.4" fill="#000"/>
<path d="M94.5 41.5 L97.5 42 L99 40.2 L100.5 42.5 L103 43 L100.8 44.5 L101.5 46.5 L98.8 45.3 L96 46.8 L96.6 44.3Z" fill="#dcdcdc" stroke="#555" stroke-width="0.6"/>
<path d="M113 51.5 L119.5 51.2 L128.5 58.6 L121 59.5 L115.5 56.5Z" fill="#d6d6d6" stroke="#555" stroke-width="0.7"/>
<circle cx="111.2" cy="58.6" r="0.9" fill="none" stroke="#555" stroke-width="0.6"/>
<circle cx="117.5" cy="62" r="0.7" fill="none" stroke="#555" stroke-width="0.6"/>
</g>
<rect x="3.5" y="-20" width="220" height="146.2" rx="8" fill="none" stroke="#000" stroke-width="4"/>
</g>
<!-- right box -->
<g>
<clipPath id="cr"><rect x="935.7" y="-20" width="220" height="146.2" rx="8"/></clipPath>
<rect x="935.7" y="-20" width="220" height="146.2" rx="8" fill="#bb5f66"/>
<g clip-path="url(#cr)">
<path d="M950.0 3.8 L952.4 6.2 L961.9 15.2 L967.6 15.7 L971.4 11.4 M957.1 2.7 L962.9 1.9 L964.8 -1.0 M970.0 4.3 L972.4 3.8 L981.9 3.8 L984.8 1.0 M960.5 21.4 L964.8 17.6 L968.6 14.3 M969.5 20.0 L972.9 19.5 L976.2 17.1 L980.0 16.7 M983.8 28.1 L986.7 25.7 L991.4 21.0 L1001.0 21.0 M1007.9 13.8 L1010.6 12.4 L1012.6 10.5 L1018.8 10.5 M1010.2 37.1 L1012.6 35.2 L1022.6 24.8 L1033.1 24.8 M1022.1 34.3 L1022.1 31.9 L1022.6 28.6 L1025.5 25.7 M1008.6 46.4 L1011.0 46.0 L1014.8 46.0 L1018.6 42.6 M1025.7 48.2 L1026.2 45.5 L1030.5 41.7 M1030.5 41.7 L1036.7 35.0 M1037.6 52.2 L1037.6 45.5 L1040.0 42.0 M1042.9 56.9 L1042.4 48.3 L1047.1 42.6 L1050.0 40.7 M1046.2 52.6 L1046.2 48.3 L1050.0 44.5 M1048.8 64.0 L1050.3 61.0 M1054.5 65.5 L1054.5 73.8 M1067.9 67.4 L1069.8 76.0 M1058.6 24.3 L1058.6 31.0 L1061.5 34.5 M1072.1 10.5 L1072.9 19.0 L1079.2 20.0 M1072.0 19.0 L1072.5 23.0 L1077.6 27.6 L1078.2 28.6 M1071.0 10.0 L1073.5 12.0 L1077.6 7.6 L1082.4 8.1 L1091.9 16.0 M1091.0 25.5 L1093.8 29.5 L1093.8 33.3 M1093.5 27.0 L1097.6 31.0 L1097.6 34.3 M1063.8 36.2 L1061.4 34.3 L1058.6 30.4 L1058.6 23.8 M1104.3 0.5 L1104.3 -1.0 M1100.0 4.8 L1102.9 6.7 L1110.5 6.9 M1116.2 14.3 L1121.9 7.6 L1131.4 7.6 M1119.0 14.3 L1122.9 11.4 L1126.7 11.4 L1136.2 15.2 L1139.1 13.8 M1122.9 11.8 L1131.4 17.6 L1139.0 18.1 L1140.5 19.5 M1119.5 27.5 L1128.6 28.6 L1129.5 29.5 M1102.9 29.5 L1112.4 32.4 L1123.8 31.9 M1105.7 34.3 L1107.6 40.0 M1114.3 47.9 L1119.0 52.6 L1126.7 52.6 M1100.0 52.1 L1103.8 52.6 L1106.7 55.0 L1107.6 55.0 M1094.5 52.6 L1105.0 52.6 M1072.6 44.5 L1072.6 55.0 L1079.2 60.7 L1086.0 60.7 L1090.7 65.5 M1073.6 46.4 L1073.6 54.0 L1082.1 62.9 M1075.0 47.5 L1075.0 54.0 L1085.0 62.9 M1093.6 36.0 L1093.6 33.0 M1097.9 38.8 L1097.9 35.0 M1100.2 35.0 L1100.2 44.5 L1102.1 45.0 M1064.0 36.4 L1064.0 35.0 M1061.4 72.9 L1064.3 75.7 L1064.3 81.4 L1068.1 85.2 L1072.9 90.0 L1073.8 92.4 M1068.1 85.2 L1068.1 90.0 L1066.5 91.0 M1067.1 70.0 L1071.9 74.8 L1071.9 76.7 M1073.8 80.5 L1077.6 84.3 L1078.1 87.6 M1078.1 91.4 L1077.6 99.0 L1075.8 100.8 M1054.3 73.8 L1054.3 70.0" fill="none" stroke="#2b2326" stroke-width="1" stroke-linejoin="round"/>
<path d="M963.8 10.5 L967.6 10.0 L976.2 10.0 L984.8 1.9 L986.0 0.0 M991.4 9.0 L995.2 7.6 L1009.3 7.0 L1014.3 1.0 L1015.0 -1.0 M982.4 16.7 L986.7 17.6 L997.1 17.6 L1004.5 10.0 L1009.3 7.0 M972.4 25.2 L976.2 25.2 L980.0 23.8 L982.0 19.5 M992.9 29.0 L996.2 27.6 L1000.0 23.8 L1004.0 19.0 M981.0 0.3 L1028.0 0.3 M1027.4 6.2 L1020.7 6.2 L1019.3 8.1 L1018.8 12.4 L1014.0 17.6 L1004.0 18.6 L1000.7 22.9 L999.8 27.6 L1001.5 30.0 M1014.8 22.8 L1017.5 19.0 L1018.8 13.3 M1039.5 18.1 L1030.0 29.0 L1029.3 30.5 L1028.3 35.2 L1021.4 41.7 L1017.6 46.4 L1017.6 48.3 M1044.8 18.1 L1044.8 20.5 L1035.7 30.0 L1035.7 37.6 L1030.0 43.3 L1029.0 45.0 M1050.5 17.0 L1050.5 59.8 L1060.2 68.3 L1060.5 83.0 M1050.5 22.4 L1044.3 28.1 L1044.3 34.3 M1041.6 40.5 L1034.8 46.4 L1033.2 48.3 M1055.7 17.0 L1055.7 19.5 L1070.0 33.8 L1070.0 42.4 L1076.4 46.4 L1085.0 46.9 L1090.0 52.0 M1050.5 31.9 L1057.6 39.5 L1066.2 50.0 L1067.9 50.2 L1067.9 60.5 M1057.4 40.7 L1057.0 40.0 L1056.9 51.5 M1069.5 66.0 L1076.4 70.2 L1078.5 72.0 M1094.0 56.5 L1102.1 61.7 L1104.5 64.5 M1068.1 6.2 L1071.0 9.0 L1077.6 14.3 L1081.4 15.7 L1091.9 25.2 L1100.5 27.6 L1113.0 27.3 M1079.0 -1.0 L1081.0 1.6 L1084.2 1.8 M1089.5 3.5 L1094.8 6.7 L1102.5 14.2 M1095.5 -1.0 L1101.4 5.7 L1110.0 6.7 M1056.2 17.6 L1056.2 19.0 L1067.1 27.6 L1071.0 28.1 L1079.5 35.0 M1118.1 0.3 L1136.2 0.8 L1137.3 1.5 M1108.2 14.8 L1121.0 14.8 L1131.4 22.9 L1134.0 24.0 M1113.2 27.3 L1119.0 27.3 L1128.6 28.6 M1100.0 30.5 L1106.7 35.2 L1115.2 35.2 L1121.9 40.0 L1123.8 41.0 M1106.7 35.0 L1106.7 38.8 L1110.5 42.6 M1100.0 60.7 L1104.8 65.5 L1106.8 67.0" fill="none" stroke="#2b2326" stroke-width="1.9" stroke-linejoin="round"/>
<circle cx="950" cy="3.8" r="1.4" fill="#bb5f66" stroke="#2b2326" stroke-width="1.05"/>
<circle cx="957.1" cy="2.7" r="1.4" fill="#bb5f66" stroke="#2b2326" stroke-width="1.05"/>
<circle cx="970" cy="4.3" r="1.4" fill="#bb5f66" stroke="#2b2326" stroke-width="1.05"/>
<circle cx="960.5" cy="21.4" r="1.4" fill="#bb5f66" stroke="#2b2326" stroke-width="1.05"/>
<circle cx="969.5" cy="20" r="1.4" fill="#bb5f66" stroke="#2b2326" stroke-width="1.05"/>
<circle cx="983.8" cy="28.1" r="1.4" fill="#bb5f66" stroke="#2b2326" stroke-width="1.05"/>
<circle cx="1007.9" cy="13.8" r="1.4" fill="#bb5f66" stroke="#2b2326" stroke-width="1.05"/>
<circle cx="1010.2" cy="37.1" r="1.4" fill="#bb5f66" stroke="#2b2326" stroke-width="1.05"/>
<circle cx="1022.1" cy="34.3" r="1.4" fill="#bb5f66" stroke="#2b2326" stroke-width="1.05"/>
<circle cx="1010" cy="37.9" r="1.4" fill="#bb5f66" stroke="#2b2326" stroke-width="1.05"/>
<circle cx="1008.6" cy="46.4" r="1.4" fill="#bb5f66" stroke="#2b2326" stroke-width="1.05"/>
<circle cx="1021.9" cy="35.5" r="1.4" fill="#bb5f66" stroke="#2b2326" stroke-width="1.05"/>
<circle cx="1025.7" cy="50.2" r="1.4" fill="#bb5f66" stroke="#2b2326" stroke-width="1.05"/>
<circle cx="1030.5" cy="41.7" r="1.4" fill="#bb5f66" stroke="#2b2326" stroke-width="1.05"/>
<circle cx="1037.6" cy="54" r="1.4" fill="#bb5f66" stroke="#2b2326" stroke-width="1.05"/>
<circle cx="1046.2" cy="54.5" r="1.4" fill="#bb5f66" stroke="#2b2326" stroke-width="1.05"/>
<circle cx="1042.9" cy="58.8" r="1.4" fill="#bb5f66" stroke="#2b2326" stroke-width="1.05"/>
<circle cx="1048.8" cy="66" r="1.4" fill="#bb5f66" stroke="#2b2326" stroke-width="1.05"/>
<circle cx="1064" cy="36.4" r="1.4" fill="#bb5f66" stroke="#2b2326" stroke-width="1.05"/>
<circle cx="1081" cy="20" r="1.4" fill="#bb5f66" stroke="#2b2326" stroke-width="1.05"/>
<circle cx="1080" cy="28.6" r="1.4" fill="#bb5f66" stroke="#2b2326" stroke-width="1.05"/>
<circle cx="1093.3" cy="17.1" r="1.4" fill="#bb5f66" stroke="#2b2326" stroke-width="1.05"/>
<circle cx="1104.3" cy="0.5" r="1.4" fill="#bb5f66" stroke="#2b2326" stroke-width="1.05"/>
<circle cx="1063.8" cy="36.2" r="1.4" fill="#bb5f66" stroke="#2b2326" stroke-width="1.05"/>
<circle cx="1093.8" cy="35.2" r="1.4" fill="#bb5f66" stroke="#2b2326" stroke-width="1.05"/>
<circle cx="1097.6" cy="36.2" r="1.4" fill="#bb5f66" stroke="#2b2326" stroke-width="1.05"/>
<circle cx="1112.4" cy="6.9" r="1.4" fill="#bb5f66" stroke="#2b2326" stroke-width="1.05"/>
<circle cx="1133.3" cy="7.6" r="1.4" fill="#bb5f66" stroke="#2b2326" stroke-width="1.05"/>
<circle cx="1141" cy="12.9" r="1.4" fill="#bb5f66" stroke="#2b2326" stroke-width="1.05"/>
<circle cx="1142.4" cy="19.5" r="1.4" fill="#bb5f66" stroke="#2b2326" stroke-width="1.05"/>
<circle cx="1131" cy="30.5" r="1.4" fill="#bb5f66" stroke="#2b2326" stroke-width="1.05"/>
<circle cx="1125.7" cy="32.9" r="1.4" fill="#bb5f66" stroke="#2b2326" stroke-width="1.05"/>
<circle cx="1128.6" cy="52.6" r="1.4" fill="#bb5f66" stroke="#2b2326" stroke-width="1.05"/>
<circle cx="1109.5" cy="55" r="1.4" fill="#bb5f66" stroke="#2b2326" stroke-width="1.05"/>
<circle cx="1101.9" cy="47.4" r="1.4" fill="#bb5f66" stroke="#2b2326" stroke-width="1.05"/>
<circle cx="1093.6" cy="36" r="1.4" fill="#bb5f66" stroke="#2b2326" stroke-width="1.05"/>
<circle cx="1097.9" cy="38.8" r="1.4" fill="#bb5f66" stroke="#2b2326" stroke-width="1.05"/>
<circle cx="1102.1" cy="46.9" r="1.4" fill="#bb5f66" stroke="#2b2326" stroke-width="1.05"/>
<circle cx="1082.1" cy="65" r="1.4" fill="#bb5f66" stroke="#2b2326" stroke-width="1.05"/>
<circle cx="1086.9" cy="65" r="1.4" fill="#bb5f66" stroke="#2b2326" stroke-width="1.05"/>
<circle cx="1054.3" cy="75.7" r="1.4" fill="#bb5f66" stroke="#2b2326" stroke-width="1.05"/>
<circle cx="1073.8" cy="94.3" r="1.4" fill="#bb5f66" stroke="#2b2326" stroke-width="1.05"/>
<circle cx="1065.7" cy="92.4" r="1.4" fill="#bb5f66" stroke="#2b2326" stroke-width="1.05"/>
<circle cx="1071.9" cy="78.6" r="1.4" fill="#bb5f66" stroke="#2b2326" stroke-width="1.05"/>
<circle cx="1078.1" cy="89.5" r="1.4" fill="#bb5f66" stroke="#2b2326" stroke-width="1.05"/>
<circle cx="1075.2" cy="102.4" r="1.4" fill="#bb5f66" stroke="#2b2326" stroke-width="1.05"/>
<circle cx="963.8" cy="10.5" r="2.6" fill="#bb5f66" stroke="#2b2326" stroke-width="1.6"/>
<circle cx="991.4" cy="9" r="3.1999999999999997" fill="#bb5f66" stroke="#2b2326" stroke-width="1.6"/>
<circle cx="982.4" cy="16.7" r="2.6" fill="#bb5f66" stroke="#2b2326" stroke-width="1.6"/>
<circle cx="972.4" cy="25.2" r="1.9" fill="#bb5f66" stroke="#2b2326" stroke-width="1.6"/>
<circle cx="992.9" cy="29" r="1.9" fill="#bb5f66" stroke="#2b2326" stroke-width="1.6"/>
<circle cx="1002.6" cy="32.4" r="2.1999999999999997" fill="#bb5f66" stroke="#2b2326" stroke-width="1.6"/>
<circle cx="1013.1" cy="25.2" r="2.4" fill="#bb5f66" stroke="#2b2326" stroke-width="1.6"/>
<circle cx="1018.1" cy="50.7" r="2.0" fill="#bb5f66" stroke="#2b2326" stroke-width="1.6"/>
<circle cx="1031.4" cy="50.2" r="2.0" fill="#bb5f66" stroke="#2b2326" stroke-width="1.6"/>
<circle cx="1043.8" cy="37.6" r="2.5" fill="#bb5f66" stroke="#2b2326" stroke-width="1.6"/>
<circle cx="1058.8" cy="55" r="2.6999999999999997" fill="#bb5f66" stroke="#2b2326" stroke-width="1.6"/>
<circle cx="1066.9" cy="63.6" r="2.4" fill="#bb5f66" stroke="#2b2326" stroke-width="1.6"/>
<circle cx="1081.2" cy="73.6" r="2.4" fill="#bb5f66" stroke="#2b2326" stroke-width="1.6"/>
<circle cx="1091.7" cy="54.5" r="2.6999999999999997" fill="#bb5f66" stroke="#2b2326" stroke-width="1.6"/>
<circle cx="1092.6" cy="69.3" r="2.4" fill="#bb5f66" stroke="#2b2326" stroke-width="1.6"/>
<circle cx="1060.5" cy="85.7" r="2.1999999999999997" fill="#bb5f66" stroke="#2b2326" stroke-width="1.6"/>
<circle cx="1081" cy="74.8" r="2.4" fill="#bb5f66" stroke="#2b2326" stroke-width="1.6"/>
<circle cx="1087.1" cy="1.9" r="2.3" fill="#bb5f66" stroke="#2b2326" stroke-width="1.6"/>
<circle cx="1105.2" cy="14.8" r="2.4" fill="#bb5f66" stroke="#2b2326" stroke-width="1.6"/>
<circle cx="1081.4" cy="37.1" r="2.3" fill="#bb5f66" stroke="#2b2326" stroke-width="1.6"/>
<circle cx="1138.6" cy="3.8" r="2.3" fill="#bb5f66" stroke="#2b2326" stroke-width="1.6"/>
<circle cx="1136.7" cy="25.2" r="2.4" fill="#bb5f66" stroke="#2b2326" stroke-width="1.6"/>
<circle cx="1116.2" cy="27.1" r="2.4" fill="#bb5f66" stroke="#2b2326" stroke-width="1.6"/>
<circle cx="1111.9" cy="45" r="2.0" fill="#bb5f66" stroke="#2b2326" stroke-width="1.6"/>
<circle cx="1123.8" cy="43.6" r="2.6999999999999997" fill="#bb5f66" stroke="#2b2326" stroke-width="1.6"/>
<circle cx="1109" cy="68.8" r="2.3" fill="#bb5f66" stroke="#2b2326" stroke-width="1.6"/>
<rect x="1035.2" y="-5" width="25.9" height="15.7" fill="#231f20" stroke="#4a4a4a" stroke-width="0.6"/>
<rect x="1038.25" y="10.9" width="2.7" height="7" fill="#c9d2d2"/>
<rect x="1038.8999999999999" y="12.5" width="1.4" height="4" fill="#eef2f2"/>
<rect x="1043.8500000000001" y="10.9" width="2.7" height="7" fill="#c9d2d2"/>
<rect x="1044.5" y="12.5" width="1.4" height="4" fill="#eef2f2"/>
<rect x="1049.45" y="10.9" width="2.7" height="7" fill="#c9d2d2"/>
<rect x="1050.1" y="12.5" width="1.4" height="4" fill="#eef2f2"/>
<rect x="1054.75" y="10.9" width="2.7" height="7" fill="#c9d2d2"/>
<rect x="1055.3999999999999" y="12.5" width="1.4" height="4" fill="#eef2f2"/>
<rect x="1027.7" y="-1" width="7.3" height="2.5" fill="#c9d2d2"/>
<rect x="1061.1" y="-1" width="7.1" height="2.5" fill="#c9d2d2"/>
<rect x="1027.7" y="4.8" width="7.3" height="2.3" fill="#c9d2d2"/>
<rect x="1061.1" y="4.8" width="7.1" height="2.3" fill="#c9d2d2"/>
</g>
<rect x="935.7" y="-20" width="220" height="146.2" rx="8" fill="none" stroke="#000" stroke-width="4"/>
</g>
<path d="M1045.6 126 L1045.6 129.3" stroke="#000" stroke-width="1.3"/>
<!-- lower tree -->
<path d="M483.8 244.4 L484.3 244.9 L484.8 245.4 L485.1 246.0 L485.3 246.7 L485.3 247.4 L485.3 247.7 L485.3 247.7 L485.3 247.7 L485.3 248.6 L485.3 248.6 L485.3 249.5 L485.3 249.5 L485.3 250.5 L485.3 250.5 L485.3 251.4 L485.3 251.4 L485.2 252.4 L485.2 252.4 L485.3 253.3 L485.3 253.3 L485.3 254.2 L485.3 254.3 L485.3 255.1 L485.3 255.1 L485.3 256.0 L485.3 256.0 L485.4 256.9 L485.4 256.9 L485.4 257.7 L485.4 257.8 L485.5 258.6 L485.5 258.6 L485.5 259.5 L485.5 259.5 L485.6 260.4 L485.6 260.4 L485.6 261.3 L485.6 261.4 L485.7 262.3 L485.7 262.3 L485.7 263.2 L485.8 263.2 L485.8 264.1 L485.8 264.1 L485.9 265.1 L485.9 265.1 L486.0 266.0 L486.0 266.0 L486.1 266.9 L486.1 267.0 L486.2 267.9 L486.2 267.9 L486.3 268.8 L486.3 268.9 L486.4 269.8 L486.4 269.8 L486.6 270.7 L486.6 270.8 L486.7 271.7 L486.7 271.7 L486.8 272.7 L486.8 272.7 L487.0 273.6 L487.0 273.6 L487.2 274.6 L487.2 274.6 L487.3 275.6 L487.3 275.6 L487.5 276.6 L487.5 276.6 L487.7 277.6 L487.7 277.6 L487.9 278.6 L487.9 278.6 L488.1 279.6 L488.1 279.6 L488.4 280.6 L488.4 280.6 L488.6 281.6 L488.6 281.6 L488.8 282.6 L488.8 282.7 L489.0 283.6 L489.0 283.7 L489.3 284.6 L489.3 284.6 L489.5 285.6 L489.5 285.6 L489.8 286.6 L489.8 286.6 L490.0 287.5 L490.0 287.5 L490.3 288.4 L490.3 288.5 L490.5 289.3 L490.5 289.4 L490.8 290.2 L490.8 290.2 L491.1 291.1 L491.1 291.1 L491.3 291.9 L491.3 291.9 L491.6 292.7 L491.6 292.7 L491.8 293.4 L491.8 293.5 L492.1 294.2 L492.1 294.2 L492.3 294.9 L492.4 295.0 L492.6 295.7 L492.6 295.7 L492.9 296.4 L492.9 296.4 L493.2 297.1 L493.2 297.2 L493.4 297.8 L493.5 297.9 L493.7 298.5 L493.8 298.6 L494.0 299.2 L494.1 299.3 L494.4 299.9 L494.4 299.9 L494.7 300.6 L494.7 300.6 L495.0 301.2 L495.1 301.3 L495.4 301.9 L495.4 302.0 L495.8 302.5 L495.8 302.6 L496.2 303.2 L496.2 303.3 L496.6 303.9 L496.6 303.9 L497.0 304.5 L497.1 304.6 L497.5 305.2 L497.5 305.2 L497.9 305.8 L498.0 305.9 L498.5 306.4 L498.5 306.5 L499.0 307.1 L499.0 307.1 L499.5 307.7 L499.5 307.7 L500.0 308.3 L500.1 308.3 L500.6 308.9 L500.6 308.9 L501.1 309.4 L501.2 309.5 L501.7 310.0 L501.7 310.0 L502.3 310.5 L502.3 310.6 L502.8 311.1 L502.9 311.1 L503.4 311.6 L503.5 311.6 L504.0 312.1 L504.0 312.1 L504.6 312.6 L504.6 312.6 L505.1 313.0 L505.2 313.1 L505.7 313.5 L505.7 313.5 L506.2 313.9 L506.3 314.0 L506.8 314.4 L506.8 314.4 L507.3 314.8 L507.4 314.8 L507.9 315.2 L508.0 315.2 L508.5 315.6 L508.5 315.6 L509.0 315.9 L509.1 316.0 L509.6 316.3 L509.7 316.3 L510.2 316.6 L510.2 316.7 L510.7 317.0 L510.8 317.0 L511.3 317.3 L511.4 317.3 L511.9 317.5 L511.9 317.6 L512.4 317.8 L512.5 317.8 L513.0 318.1 L513.0 318.1 L513.5 318.3 L513.5 318.3 L514.0 318.6 L514.1 318.6 L514.6 318.8 L514.6 318.8 L515.1 319.0 L515.1 319.0 L515.6 319.2 L515.6 319.2 L516.1 319.4 L516.1 319.4 L516.6 319.6 L517.1 319.8 L517.6 320.0 L517.7 320.0 L518.2 320.2 L518.2 320.3 L518.7 320.5 L518.8 320.5 L519.3 320.7 L519.3 320.7 L519.8 320.9 L519.9 320.9 L520.4 321.0 L520.4 321.1 L520.9 321.2 L520.9 321.2 L521.4 321.4 L521.5 321.4 L522.0 321.6 L522.0 321.6 L522.5 321.7 L522.5 321.7 L523.0 321.9 L523.0 321.9 L523.5 322.0 L523.5 322.0 L524.1 322.2 L524.6 322.3 L525.1 322.5 L525.5 322.6 L526.0 322.8 L526.5 322.9 L527.0 323.1 L527.5 323.2 L528.0 323.4 L528.0 323.4 L528.5 323.5 L528.5 323.6 L529.0 323.7 L529.0 323.7 L529.5 323.9 L529.5 323.9 L529.9 324.0 L530.4 324.2 L530.9 324.3 L531.4 324.5 L531.8 324.6 L532.3 324.8 L532.8 324.9 L533.2 325.1 L533.7 325.3 L534.2 325.4 L534.7 325.6 L535.2 325.8 L535.7 326.0 L536.2 326.2 L536.7 326.4 L537.3 326.7 L537.8 326.9 L538.4 327.1 L538.9 327.3 L539.4 327.6 L540.0 327.8 L540.5 328.0 L541.0 328.3 L541.6 328.5 L542.2 328.8 L542.8 329.1 L543.4 329.4 L544.0 329.7 L544.6 330.0 L545.3 330.3 L546.0 330.7 L546.7 331.1 L547.5 331.5 L548.3 331.9 L549.2 332.3 L549.2 332.3 L550.1 332.8 L551.1 333.3 L552.1 333.9 L553.1 334.4 L554.2 335.0 L555.2 335.5 L556.3 336.1 L557.4 336.7 L558.6 337.4 L559.7 338.0 L560.8 338.6 L561.9 339.2 L563.0 339.9 L564.0 340.5 L565.1 341.1 L566.1 341.8 L567.1 342.4 L568.0 343.0 L568.9 343.6 L569.9 344.3 L570.8 344.9 L571.8 345.6 L572.7 346.3 L573.6 347.0 L574.6 347.7 L575.5 348.4 L576.4 349.1 L577.3 349.8 L578.1 350.5 L578.9 351.2 L579.7 351.9 L580.5 352.5 L581.2 353.2 L581.9 353.8 L582.5 354.4 L583.1 354.9 L583.6 355.5 L584.0 356.0 L584.4 356.4 L584.8 356.8 L585.1 357.2 L585.3 357.6 L585.5 358.0 L585.7 358.3 L585.9 358.6 L586.1 358.9 L586.2 359.3 L586.3 359.6 L586.4 359.9 L586.6 360.3 L586.7 360.7 L586.8 361.1 L586.9 361.5 L587.1 362.0 L587.1 362.0 L587.2 362.5 L587.2 362.5 L587.3 363.0 L587.5 363.4 L587.5 363.8 L587.6 364.3 L587.7 364.8 L587.8 365.3 L587.9 365.8 L587.9 366.4 L588.0 367.0 L588.0 367.5 L588.1 368.1 L588.1 368.7 L588.1 369.2 L588.2 369.7 L588.2 370.2 L588.2 370.7 L588.2 370.7 L588.2 371.2 L588.2 371.2 L588.3 371.6 L588.3 371.6 L588.3 372.0 L588.3 372.0 L588.3 372.3 L588.6 372.3 L588.6 425.0 L598.6 425.0 L598.6 372.2 L599.2 372.3 L599.2 372.0 L599.2 372.0 L599.2 371.7 L599.2 371.7 L599.2 371.4 L599.2 371.4 L599.3 371.1 L599.3 370.7 L599.3 370.3 L599.3 369.8 L599.4 369.4 L599.4 368.9 L599.4 368.4 L599.5 368.0 L599.5 367.5 L599.5 367.0 L599.6 366.5 L599.6 366.1 L599.7 365.6 L599.7 365.2 L599.7 364.8 L599.8 364.4 L599.8 364.4 L599.8 364.0 L599.8 363.9 L599.9 363.5 L599.9 363.5 L599.9 363.1 L599.9 363.1 L599.9 362.7 L599.9 362.7 L600.0 362.3 L600.0 362.0 L600.0 361.6 L600.0 361.3 L600.1 360.9 L600.1 360.6 L600.1 360.3 L600.2 360.0 L600.2 359.8 L600.3 359.5 L600.3 359.3 L600.4 359.1 L600.5 358.8 L600.5 358.6 L600.6 358.4 L600.7 358.1 L600.9 357.8 L601.0 357.5 L601.1 357.2 L601.3 357.0 L601.4 356.7 L601.5 356.5 L601.7 356.3 L601.8 356.0 L602.0 355.8 L602.1 355.6 L602.3 355.3 L602.5 355.1 L602.7 354.9 L603.0 354.6 L603.3 354.3 L603.5 354.1 L603.9 353.8 L604.2 353.5 L604.6 353.1 L605.0 352.8 L605.5 352.4 L606.1 352.1 L606.6 351.7 L607.2 351.3 L607.8 350.9 L608.5 350.4 L609.2 350.0 L609.8 349.6 L610.5 349.2 L611.2 348.8 L611.9 348.3 L612.6 347.9 L613.2 347.5 L613.9 347.2 L614.5 346.8 L615.1 346.4 L615.1 346.4 L615.6 346.1 L616.1 345.8 L616.6 345.6 L617.0 345.3 L617.5 345.1 L617.9 344.9 L618.4 344.7 L618.8 344.4 L619.3 344.2 L619.7 344.0 L619.7 344.0 L620.2 343.8 L620.2 343.8 L620.7 343.6 L620.7 343.6 L621.1 343.4 L621.2 343.3 L621.6 343.1 L621.7 343.1 L622.1 342.9 L622.2 342.8 L622.6 342.6 L622.7 342.5 L623.1 342.3 L623.2 342.2 L623.6 341.9 L623.7 341.9 L624.2 341.6 L624.3 341.5 L624.7 341.2 L624.7 341.1 L625.2 340.8 L625.2 340.8 L625.6 340.4 L625.6 340.4 L626.1 340.1 L626.1 340.0 L626.2 339.9 L626.4 339.8 L626.5 339.7 L626.5 339.7 L626.5 339.7 L627.0 339.3 L627.0 339.3 L627.5 338.9 L627.5 338.8 L627.9 338.5 L628.0 338.4 L628.4 338.0 L628.4 338.0 L628.5 338.0 L628.5 338.0 L628.5 338.0 L628.6 337.8 L628.9 337.6 L628.9 337.6 L628.9 337.5 L628.9 337.5 L628.9 337.5 L628.9 337.5 L629.1 337.3 L629.3 337.1 L629.3 337.1 L629.4 337.1 L629.4 337.0 L629.4 337.0 L629.4 337.0 L629.8 336.6 L629.8 336.6 L629.8 336.6 L629.9 336.5 L629.9 336.5 L629.9 336.5 L630.1 336.3 L630.2 336.1 L630.3 336.1 L630.3 336.1 L630.3 336.1 L630.3 336.0 L630.3 336.0 L630.3 336.0 L630.7 335.6 L630.7 335.6 L630.7 335.6 L630.8 335.5 L630.8 335.5 L630.8 335.5 L630.9 335.3 L631.1 335.0 L631.1 335.0 L631.1 335.0 L631.2 334.9 L631.2 334.9 L631.2 334.9 L631.5 334.5 L631.5 334.5 L631.5 334.4 L631.6 334.3 L631.6 334.3 L631.6 334.3 L631.9 333.9 L631.9 333.9 L631.9 333.9 L631.9 333.8 L632.0 333.7 L632.0 333.7 L632.0 333.7 L632.1 333.5 L632.3 333.3 L632.3 333.3 L632.3 333.2 L632.3 333.2 L632.3 333.1 L632.4 333.1 L632.4 333.1 L632.6 332.6 L632.6 332.6 L632.6 332.6 L632.7 332.4 L632.7 332.4 L632.7 332.4 L632.8 332.2 L632.9 332.0 L632.9 331.9 L632.9 331.9 L633.0 331.7 L633.0 331.7 L633.0 331.7 L633.0 331.6 L633.2 331.2 L633.2 331.2 L633.2 331.1 L633.2 331.0 L633.3 330.9 L633.3 330.9 L633.3 330.9 L633.3 330.7 L633.4 330.4 L633.4 330.4 L633.4 330.3 L633.4 330.2 L633.4 330.1 L633.5 330.1 L633.5 330.1 L633.6 329.6 L633.6 329.5 L633.6 329.5 L633.6 329.4 L633.6 329.3 L633.6 329.3 L633.6 329.1 L633.7 328.8 L633.7 328.7 L633.7 328.7 L633.7 328.6 L633.7 328.6 L633.7 328.6 L633.7 328.0 L633.7 328.0 L633.7 327.9 L633.7 327.9 L633.7 327.8 L633.7 327.8 L633.7 327.8 L633.8 327.5 L633.8 327.2 L633.8 327.2 L633.8 327.2 L633.8 327.1 L633.8 327.1 L633.8 327.1 L633.8 326.4 L633.8 326.4 L633.8 326.4 L633.8 326.4 L633.8 326.3 L633.8 326.3 L633.8 326.3 L633.8 325.9 L633.8 325.3 L634.0 324.6 L634.4 324.0 L634.8 323.4 L635.3 323.0 L635.9 322.7 L636.6 322.5 L637.3 322.4 L644.2 322.4 L660.8 322.4 L666.9 322.4 L671.3 322.4 L675.0 322.3 L678.2 322.3 L681.1 322.2 L683.7 322.2 L686.1 322.1 L688.4 322.0 L690.5 322.0 L692.4 321.9 L694.3 321.8 L696.1 321.6 L697.8 321.5 L699.5 321.4 L701.1 321.3 L702.6 321.1 L704.0 321.0 L705.5 320.8 L706.8 320.6 L706.8 320.6 L708.2 320.5 L708.2 320.4 L709.4 320.3 L709.5 320.3 L710.7 320.1 L710.7 320.1 L711.9 319.9 L711.9 319.9 L713.1 319.6 L713.1 319.6 L714.2 319.4 L714.2 319.4 L715.3 319.2 L715.4 319.2 L716.4 319.0 L716.5 319.0 L717.5 318.7 L717.5 318.7 L718.5 318.5 L718.5 318.5 L719.5 318.2 L719.6 318.2 L720.5 317.9 L720.5 317.9 L721.5 317.7 L721.5 317.6 L722.4 317.4 L722.4 317.4 L723.3 317.1 L723.3 317.1 L724.2 316.8 L724.2 316.8 L725.1 316.5 L725.1 316.5 L725.9 316.2 L726.0 316.1 L726.8 315.8 L726.8 315.8 L727.6 315.5 L727.6 315.5 L728.4 315.2 L728.4 315.2 L729.1 314.8 L729.2 314.8 L729.9 314.5 L729.9 314.5 L730.6 314.1 L730.7 314.1 L731.4 313.8 L731.4 313.7 L732.1 313.4 L732.1 313.4 L732.8 313.0 L732.8 313.0 L733.4 312.6 L733.5 312.6 L734.1 312.2 L734.1 312.2 L734.7 311.8 L734.8 311.8 L735.4 311.4 L735.4 311.4 L736.0 311.0 L736.0 311.0 L736.6 310.6 L736.6 310.6 L737.1 310.2 L737.2 310.2 L737.7 309.8 L737.7 309.8 L738.3 309.4 L738.3 309.3 L738.8 308.9 L738.8 308.9 L739.3 308.5 L739.3 308.5 L739.8 308.0 L739.9 308.0 L740.3 307.6 L740.3 307.6 L740.8 307.1 L740.8 307.1 L741.3 306.7 L741.3 306.6 L741.7 306.2 L741.8 306.2 L742.2 305.7 L742.2 305.7 L742.6 305.3 L742.6 305.2 L743.0 304.8 L743.0 304.7 L743.4 304.3 L743.4 304.3 L743.8 303.8 L743.8 303.8 L744.2 303.3 L744.2 303.3 L744.5 302.8 L744.6 302.8 L744.9 302.3 L744.9 302.3 L745.2 301.8 L745.3 301.8 L745.6 301.3 L745.6 301.3 L745.9 300.8 L745.9 300.8 L746.2 300.3 L746.2 300.3 L746.5 299.8 L746.5 299.8 L746.7 299.3 L746.8 299.2 L747.0 298.7 L747.0 298.7 L747.3 298.2 L747.3 298.2 L747.5 297.7 L747.5 297.7 L747.7 297.2 L747.8 297.1 L748.0 296.6 L748.0 296.6 L748.2 296.1 L748.2 296.1 L748.4 295.6 L748.4 295.6 L748.5 295.1 L748.5 295.0 L748.7 294.5 L748.7 294.5 L748.9 294.0 L748.9 294.0 L749.0 293.5 L749.0 293.4 L749.1 292.9 L749.2 292.9 L749.3 292.4 L749.3 292.3 L749.4 291.8 L749.4 291.8 L749.5 291.3 L749.5 291.3 L749.6 290.8 L749.6 290.7 L749.6 290.2 L749.6 290.2 L749.7 289.7 L749.7 289.7 L749.8 289.2 L749.8 289.1 L749.8 288.7 L749.8 288.6 L749.8 288.1 L749.8 288.1 L749.8 287.6 L749.8 287.6 L749.8 287.1 L749.8 287.1 L749.8 286.6 L749.8 286.6 L749.8 286.1 L749.8 286.1 L749.8 285.6 L749.8 285.5 L749.8 285.1 L749.8 285.0 L749.7 284.5 L749.7 284.5 L749.6 284.0 L749.6 284.0 L749.6 283.5 L749.6 283.4 L749.5 282.9 L749.5 282.9 L749.4 282.4 L749.4 282.4 L749.3 281.9 L749.3 281.8 L749.2 281.3 L749.1 281.3 L749.0 280.8 L749.0 280.7 L748.9 280.2 L748.9 280.2 L748.7 279.7 L748.7 279.7 L748.5 279.2 L748.5 279.1 L748.4 278.6 L748.4 278.6 L748.2 278.1 L748.2 278.1 L748.0 277.6 L748.0 277.6 L747.8 277.1 L747.7 277.0 L747.5 276.5 L747.5 276.5 L747.3 276.0 L747.3 276.0 L747.0 275.5 L747.0 275.5 L746.8 275.0 L746.7 274.9 L746.5 274.4 L746.5 274.4 L746.2 273.9 L746.2 273.9 L745.9 273.4 L745.9 273.4 L745.6 272.9 L745.6 272.9 L745.3 272.4 L745.2 272.4 L744.9 271.9 L744.9 271.9 L744.6 271.4 L744.5 271.4 L744.2 270.9 L744.2 270.9 L743.8 270.4 L743.8 270.4 L743.4 269.9 L743.4 269.9 L743.0 269.5 L743.0 269.4 L742.6 269.0 L742.6 268.9 L742.2 268.5 L742.2 268.5 L741.8 268.0 L741.7 268.0 L741.3 267.6 L741.3 267.5 L740.8 267.1 L740.8 267.1 L740.3 266.6 L740.3 266.6 L739.9 266.2 L739.8 266.2 L739.3 265.7 L739.3 265.7 L738.8 265.3 L738.8 265.3 L738.3 264.9 L738.3 264.8 L737.7 264.4 L737.7 264.4 L737.2 264.0 L737.1 264.0 L736.6 263.6 L736.6 263.6 L736.0 263.2 L736.0 263.2 L735.4 262.8 L735.4 262.8 L734.8 262.4 L734.7 262.4 L734.1 262.0 L734.1 262.0 L733.5 261.6 L733.4 261.6 L732.8 261.2 L732.8 261.2 L732.1 260.8 L732.1 260.8 L731.4 260.5 L731.4 260.4 L730.7 260.1 L730.6 260.1 L729.9 259.7 L729.9 259.7 L729.2 259.4 L729.1 259.4 L728.4 259.0 L728.4 259.0 L727.6 258.7 L727.6 258.7 L726.8 258.4 L726.8 258.4 L726.0 258.1 L725.9 258.0 L725.1 257.7 L725.1 257.7 L724.2 257.4 L724.2 257.4 L723.3 257.1 L723.3 257.1 L722.4 256.8 L722.4 256.8 L721.5 256.6 L721.5 256.5 L720.5 256.3 L720.5 256.3 L719.6 256.0 L719.5 256.0 L718.5 255.7 L718.5 255.7 L717.5 255.5 L717.5 255.5 L716.5 255.2 L716.4 255.2 L715.4 255.0 L715.3 255.0 L714.2 254.8 L714.2 254.8 L713.1 254.6 L713.1 254.6 L711.9 254.3 L711.9 254.3 L710.7 254.1 L710.7 254.1 L709.5 253.9 L709.4 253.9 L708.2 253.8 L708.2 253.7 L706.8 253.6 L706.8 253.6 L705.5 253.4 L704.1 253.2 L702.6 253.1 L701.1 252.9 L699.5 252.8 L697.9 252.7 L696.1 252.6 L694.3 252.4 L692.5 252.3 L690.5 252.2 L688.4 252.2 L686.1 252.1 L683.7 252.0 L681.1 252.0 L678.2 251.9 L675.0 251.9 L671.3 251.8 L666.9 251.8 L660.9 251.8 L644.3 251.8 L627.7 251.8 L621.6 251.8 L617.2 251.8 L613.5 251.9 L610.3 251.9 L607.4 252.0 L604.8 252.0 L602.4 252.1 L600.1 252.2 L598.0 252.2 L596.1 252.3 L594.2 252.4 L592.4 252.6 L590.7 252.7 L589.0 252.8 L587.4 252.9 L585.9 253.1 L584.5 253.2 L583.0 253.4 L581.7 253.6 L581.7 253.6 L580.3 253.7 L580.3 253.8 L579.1 253.9 L579.0 253.9 L577.8 254.1 L577.8 254.1 L576.6 254.3 L576.6 254.3 L575.4 254.6 L575.4 254.6 L574.3 254.8 L574.3 254.8 L573.2 255.0 L573.1 255.0 L572.1 255.2 L572.0 255.2 L571.0 255.5 L571.0 255.5 L570.0 255.7 L570.0 255.7 L569.0 256.0 L568.9 256.0 L568.0 256.3 L568.0 256.3 L567.0 256.5 L567.0 256.6 L566.1 256.8 L566.1 256.8 L565.2 257.1 L565.2 257.1 L564.3 257.4 L564.3 257.4 L563.4 257.7 L563.4 257.7 L562.6 258.0 L562.5 258.1 L561.7 258.4 L561.7 258.4 L560.9 258.7 L560.9 258.7 L560.1 259.0 L560.1 259.0 L559.4 259.4 L559.3 259.4 L558.6 259.7 L558.6 259.7 L557.9 260.1 L557.8 260.1 L557.1 260.4 L557.1 260.5 L556.4 260.8 L556.4 260.8 L555.7 261.2 L555.7 261.2 L555.1 261.6 L555.0 261.6 L554.4 262.0 L554.4 262.0 L553.8 262.4 L553.7 262.4 L553.1 262.8 L553.1 262.8 L552.5 263.2 L552.5 263.2 L551.9 263.6 L551.9 263.6 L551.4 264.0 L551.3 264.0 L550.8 264.4 L550.8 264.4 L550.2 264.8 L550.2 264.9 L549.7 265.3 L549.7 265.3 L549.2 265.7 L549.2 265.7 L548.7 266.2 L548.6 266.2 L548.2 266.6 L548.2 266.6 L547.7 267.1 L547.7 267.1 L547.2 267.5 L547.2 267.6 L546.8 268.0 L546.7 268.0 L546.3 268.5 L546.3 268.5 L545.9 268.9 L545.9 269.0 L545.5 269.4 L545.5 269.5 L545.1 269.9 L545.1 269.9 L544.7 270.4 L544.7 270.4 L544.3 270.9 L544.3 270.9 L544.0 271.4 L543.9 271.4 L543.6 271.9 L543.6 271.9 L543.3 272.4 L543.2 272.4 L542.9 272.9 L542.9 272.9 L542.6 273.4 L542.6 273.4 L542.3 273.9 L542.3 273.9 L542.0 274.4 L542.0 274.4 L541.8 274.9 L541.7 275.0 L541.5 275.5 L541.5 275.5 L541.2 276.0 L541.2 276.0 L541.0 276.5 L541.0 276.5 L540.8 277.0 L540.7 277.1 L540.5 277.6 L540.5 277.6 L540.3 278.1 L540.3 278.1 L540.1 278.6 L540.1 278.6 L540.0 279.1 L540.0 279.2 L539.8 279.7 L539.8 279.7 L539.6 280.2 L539.6 280.2 L539.5 280.7 L539.5 280.8 L539.4 281.3 L539.3 281.3 L539.2 281.8 L539.2 281.9 L539.1 282.4 L539.1 282.4 L539.0 282.9 L539.0 282.9 L538.9 283.4 L538.9 283.5 L538.9 284.0 L538.9 284.0 L538.8 284.5 L538.8 284.5 L538.7 285.0 L538.7 285.1 L538.7 285.5 L538.7 285.6 L538.7 286.1 L538.7 286.1 L538.7 286.6 L538.7 286.6 L538.7 287.1 L538.7 287.1 L538.7 287.6 L538.7 287.6 L538.7 288.1 L538.7 288.1 L538.7 288.6 L538.7 288.7 L538.7 289.1 L538.7 289.2 L538.8 289.7 L538.8 289.7 L538.9 290.2 L538.9 290.2 L538.9 290.7 L538.9 290.8 L539.0 291.3 L539.0 291.3 L539.1 291.8 L539.1 291.8 L539.2 292.3 L539.2 292.4 L539.3 292.9 L539.4 292.9 L539.5 293.4 L539.5 293.5 L539.6 294.0 L539.6 294.0 L539.8 294.5 L539.8 294.5 L540.0 295.0 L540.0 295.1 L540.1 295.6 L540.1 295.6 L540.3 296.1 L540.3 296.1 L540.5 296.6 L540.5 296.6 L540.7 297.1 L540.8 297.2 L541.0 297.7 L541.0 297.7 L541.2 298.2 L541.2 298.2 L541.5 298.7 L541.5 298.7 L541.7 299.2 L541.8 299.3 L542.0 299.8 L542.0 299.8 L542.3 300.3 L542.3 300.3 L542.6 300.8 L542.6 300.8 L542.9 301.3 L542.9 301.3 L543.2 301.8 L543.3 301.8 L543.6 302.3 L543.6 302.3 L543.9 302.8 L544.0 302.8 L544.3 303.3 L544.3 303.3 L544.7 303.8 L544.7 303.8 L545.1 304.3 L545.1 304.3 L545.5 304.7 L545.5 304.8 L545.9 305.2 L545.9 305.3 L546.3 305.7 L546.3 305.7 L546.7 306.2 L546.8 306.2 L547.2 306.6 L547.2 306.7 L547.7 307.1 L547.7 307.1 L548.2 307.6 L548.2 307.6 L548.6 308.0 L548.7 308.0 L549.2 308.5 L549.2 308.5 L549.7 308.9 L549.7 308.9 L550.2 309.3 L550.2 309.4 L550.8 309.8 L550.8 309.8 L551.3 310.2 L551.4 310.2 L551.9 310.6 L551.9 310.6 L552.5 311.0 L552.5 311.0 L553.1 311.4 L553.1 311.4 L553.7 311.8 L553.8 311.8 L554.4 312.2 L554.4 312.2 L555.0 312.6 L555.1 312.6 L555.7 313.0 L555.7 313.0 L556.4 313.4 L556.4 313.4 L557.1 313.7 L557.1 313.8 L557.8 314.1 L557.9 314.1 L558.6 314.5 L558.6 314.5 L559.3 314.8 L559.4 314.8 L560.1 315.2 L560.1 315.2 L560.9 315.5 L560.9 315.5 L561.7 315.8 L561.7 315.8 L562.5 316.1 L562.6 316.2 L563.4 316.5 L563.4 316.5 L564.3 316.8 L564.3 316.8 L565.2 317.1 L565.2 317.1 L566.1 317.4 L566.1 317.4 L567.0 317.6 L567.0 317.7 L568.0 317.9 L568.0 317.9 L568.9 318.2 L569.0 318.2 L570.0 318.5 L570.0 318.5 L571.0 318.7 L571.0 318.7 L572.0 319.0 L572.1 319.0 L573.1 319.2 L573.2 319.2 L574.3 319.4 L574.3 319.4 L575.4 319.6 L575.4 319.6 L576.6 319.9 L576.6 319.9 L577.8 320.1 L577.8 320.1 L579.0 320.3 L579.1 320.3 L580.3 320.4 L580.3 320.5 L581.7 320.6 L581.7 320.6 L583.0 320.8 L584.4 321.0 L585.9 321.1 L587.4 321.3 L589.0 321.4 L590.6 321.5 L592.4 321.6 L594.2 321.8 L596.0 321.9 L598.0 322.0 L600.1 322.0 L602.4 322.1 L604.8 322.2 L607.4 322.2 L610.3 322.3 L613.5 322.3 L617.2 322.4 L621.6 322.4 L623.1 322.4 L623.8 322.5 L624.4 322.6 L625.0 323.0 L625.5 323.4 L626.0 323.9 L626.3 324.5 L626.5 325.1 L626.6 325.8 L626.6 325.8 L626.6 325.9 L626.6 326.3 L626.6 326.4 L626.6 326.9 L626.6 327.0 L626.6 327.1 L626.6 327.4 L626.6 327.5 L626.5 327.8 L626.5 328.0 L626.5 328.2 L626.4 328.4 L626.4 328.5 L626.4 328.6 L626.4 328.8 L626.4 328.8 L626.4 328.8 L626.2 329.3 L626.2 329.3 L626.2 329.3 L626.1 329.5 L626.0 329.6 L625.9 329.8 L625.9 329.8 L625.9 330.0 L625.8 330.1 L625.6 330.3 L625.6 330.4 L625.4 330.6 L625.3 330.7 L625.2 331.0 L625.1 331.1 L624.9 331.3 L624.8 331.4 L624.6 331.7 L624.5 331.7 L624.4 331.9 L624.2 332.0 L624.2 332.1 L623.9 332.4 L623.8 332.4 L623.5 332.7 L623.5 332.8 L623.1 333.1 L623.1 333.1 L622.7 333.4 L622.7 333.5 L622.3 333.8 L622.3 333.8 L621.9 334.1 L621.9 334.2 L621.5 334.5 L621.5 334.5 L621.1 334.8 L621.1 334.8 L620.7 335.1 L620.7 335.2 L620.4 335.4 L620.3 335.4 L620.3 335.5 L620.0 335.7 L619.9 335.7 L619.9 335.8 L619.7 335.9 L619.6 336.0 L619.4 336.1 L619.3 336.2 L619.2 336.2 L619.0 336.3 L619.0 336.4 L618.7 336.5 L618.7 336.5 L618.6 336.6 L618.3 336.7 L618.3 336.7 L618.2 336.8 L618.0 336.9 L617.9 336.9 L617.6 337.1 L617.6 337.1 L617.5 337.1 L617.4 337.2 L617.2 337.3 L617.1 337.3 L616.7 337.5 L616.7 337.5 L616.3 337.7 L616.3 337.7 L615.8 337.9 L615.8 337.9 L615.3 338.1 L615.3 338.1 L614.8 338.4 L614.8 338.4 L614.3 338.6 L614.2 338.7 L613.7 338.9 L613.7 338.9 L613.2 339.2 L613.1 339.3 L612.6 339.5 L612.6 339.5 L612.6 339.6 L612.5 339.6 L612.5 339.6 L612.5 339.6 L612.4 339.7 L612.0 339.9 L612.0 339.9 L611.9 339.9 L611.4 340.2 L610.8 340.6 L610.2 341.0 L609.5 341.4 L609.5 341.4 L608.9 341.8 L608.9 341.8 L608.2 342.2 L608.2 342.2 L607.5 342.6 L607.5 342.6 L606.8 343.0 L606.8 343.0 L606.1 343.5 L606.0 343.5 L605.3 343.9 L605.3 343.9 L604.6 344.4 L604.6 344.4 L603.9 344.8 L603.9 344.8 L603.3 345.3 L603.2 345.3 L602.6 345.7 L602.5 345.7 L601.9 346.2 L601.9 346.2 L601.3 346.6 L601.3 346.6 L600.7 347.0 L600.7 347.1 L600.2 347.5 L600.1 347.5 L599.6 347.9 L599.5 348.0 L599.1 348.3 L599.1 348.4 L598.7 348.8 L598.6 348.8 L598.2 349.2 L598.2 349.2 L597.8 349.6 L597.8 349.6 L597.5 350.0 L597.4 350.1 L597.1 350.4 L597.0 350.5 L596.7 350.8 L596.7 350.9 L596.4 351.2 L596.4 351.3 L596.1 351.6 L596.1 351.7 L595.8 352.0 L595.8 352.1 L595.6 352.4 L595.5 352.5 L595.3 352.8 L595.3 352.9 L595.1 353.2 L595.1 353.3 L594.9 353.6 L594.9 353.7 L594.7 354.0 L594.7 354.1 L594.5 354.4 L594.5 354.5 L594.3 354.8 L594.3 354.9 L594.2 355.2 L594.1 355.2 L594.0 355.6 L594.0 355.7 L593.8 356.0 L593.8 356.1 L593.6 356.5 L593.6 356.6 L593.5 357.0 L593.4 357.1 L593.4 357.5 L593.3 357.6 L593.3 357.7 L593.3 357.7 L593.3 357.6 L593.1 357.1 L593.1 357.0 L592.9 356.6 L592.8 356.5 L592.7 356.0 L592.6 355.9 L592.4 355.5 L592.3 355.3 L592.1 354.9 L592.0 354.8 L591.7 354.3 L591.7 354.2 L591.4 353.7 L591.3 353.6 L591.0 353.1 L590.9 353.0 L590.5 352.5 L590.4 352.4 L590.0 351.9 L589.9 351.8 L589.4 351.2 L589.4 351.1 L588.9 350.6 L588.8 350.5 L588.2 349.9 L588.2 349.8 L587.5 349.2 L587.5 349.2 L586.8 348.5 L586.8 348.5 L586.1 347.8 L586.0 347.8 L585.3 347.1 L585.2 347.1 L584.4 346.4 L584.4 346.4 L583.6 345.7 L583.5 345.7 L582.7 345.0 L582.7 344.9 L581.8 344.2 L581.8 344.2 L580.9 343.5 L580.8 343.4 L579.9 342.7 L579.9 342.7 L578.9 342.0 L578.9 342.0 L578.0 341.2 L577.9 341.2 L577.0 340.5 L577.0 340.5 L576.0 339.8 L576.0 339.8 L575.0 339.1 L575.0 339.1 L574.0 338.4 L574.0 338.4 L573.0 337.7 L573.0 337.7 L572.0 337.0 L572.0 337.0 L571.0 336.4 L571.0 336.3 L570.0 335.7 L569.9 335.7 L568.9 335.0 L568.8 335.0 L567.8 334.3 L567.7 334.3 L566.6 333.7 L566.6 333.6 L565.5 333.0 L565.5 333.0 L564.4 332.3 L564.3 332.3 L563.2 331.7 L563.2 331.7 L562.0 331.1 L562.0 331.0 L560.9 330.4 L560.9 330.4 L559.8 329.8 L559.8 329.8 L558.6 329.2 L558.6 329.2 L557.5 328.6 L557.5 328.6 L556.5 328.0 L556.5 328.0 L555.4 327.5 L555.4 327.5 L554.4 327.0 L553.5 326.5 L552.5 326.0 L551.7 325.5 L551.7 325.5 L550.9 325.1 L550.8 325.1 L550.1 324.7 L550.0 324.7 L549.3 324.3 L549.3 324.3 L548.5 323.9 L548.5 323.9 L547.8 323.5 L547.8 323.5 L547.2 323.2 L547.1 323.2 L546.5 322.9 L546.5 322.9 L545.8 322.6 L545.8 322.6 L545.2 322.3 L545.2 322.3 L544.6 322.0 L544.6 322.0 L544.0 321.7 L544.0 321.7 L543.4 321.5 L543.4 321.5 L542.9 321.2 L542.8 321.2 L542.3 321.0 L542.3 321.0 L541.7 320.7 L541.7 320.7 L541.2 320.5 L541.2 320.5 L540.6 320.2 L540.6 320.2 L540.0 320.0 L540.0 320.0 L539.5 319.8 L539.5 319.8 L538.9 319.5 L538.9 319.5 L538.3 319.3 L538.3 319.3 L537.8 319.1 L537.7 319.1 L537.2 318.9 L537.2 318.9 L536.7 318.7 L536.6 318.7 L536.1 318.5 L536.1 318.5 L535.6 318.3 L535.6 318.3 L535.1 318.1 L535.1 318.1 L534.6 318.0 L534.6 318.0 L534.1 317.8 L534.1 317.8 L533.6 317.6 L533.6 317.6 L533.1 317.5 L533.1 317.5 L532.6 317.3 L532.1 317.2 L531.7 317.0 L531.2 316.9 L530.7 316.7 L530.2 316.5 L529.7 316.4 L529.7 316.4 L529.2 316.2 L529.2 316.2 L528.7 316.0 L528.7 316.0 L528.2 315.9 L528.1 315.9 L527.6 315.7 L527.6 315.7 L527.1 315.6 L527.1 315.6 L526.6 315.4 L526.6 315.4 L526.1 315.3 L525.6 315.1 L525.1 315.0 L524.6 314.8 L524.1 314.7 L523.6 314.5 L523.1 314.4 L522.7 314.2 L522.2 314.1 L521.7 313.9 L521.3 313.7 L520.8 313.6 L520.4 313.4 L519.9 313.2 L519.9 313.2 L519.4 313.0 L519.4 313.0 L518.9 312.8 L518.4 312.5 L517.9 312.3 L517.4 312.1 L516.9 311.9 L516.5 311.7 L516.0 311.5 L515.5 311.3 L515.1 311.1 L514.7 310.9 L514.2 310.7 L513.8 310.4 L513.4 310.2 L512.9 309.9 L512.5 309.6 L512.1 309.3 L511.6 309.0 L511.2 308.7 L510.7 308.3 L510.2 307.9 L509.7 307.5 L509.2 307.1 L508.7 306.7 L508.2 306.2 L507.7 305.8 L507.2 305.3 L506.8 304.8 L506.3 304.4 L505.8 303.9 L505.4 303.4 L504.9 302.9 L504.5 302.4 L504.1 301.9 L503.7 301.4 L503.3 301.0 L503.0 300.5 L502.6 300.0 L502.5 299.8 L502.4 299.6 L502.3 299.5 L502.3 299.4 L502.0 299.0 L502.0 298.9 L501.7 298.4 L501.7 298.4 L501.4 297.9 L501.4 297.9 L501.2 297.4 L501.1 297.3 L500.9 296.8 L500.9 296.8 L500.6 296.3 L500.6 296.2 L500.4 295.7 L500.3 295.6 L500.2 295.4 L500.1 295.1 L500.1 295.1 L499.9 294.5 L499.8 294.5 L499.6 293.9 L499.6 293.8 L499.4 293.2 L499.4 293.2 L499.1 292.6 L499.1 292.5 L498.9 291.9 L498.9 291.9 L498.7 291.2 L498.7 291.2 L498.5 290.6 L498.4 290.4 L498.4 290.4 L498.4 290.2 L498.2 289.7 L498.2 289.7 L498.0 289.1 L497.9 288.9 L497.9 288.9 L497.7 288.2 L497.7 288.1 L497.5 287.3 L497.4 287.3 L497.2 286.5 L497.2 286.5 L497.0 285.6 L497.0 285.6 L496.7 284.8 L496.7 284.7 L496.6 284.1 L496.5 283.8 L496.5 283.8 L496.3 282.9 L496.3 282.9 L496.0 282.0 L496.0 282.0 L495.8 281.0 L495.8 281.0 L495.6 280.1 L495.6 280.0 L495.4 279.1 L495.4 279.1 L495.2 278.1 L495.2 278.1 L495.0 277.2 L495.0 277.1 L494.8 276.2 L494.8 276.2 L494.6 275.3 L494.6 275.2 L494.4 274.3 L494.4 274.3 L494.3 273.4 L494.3 273.3 L494.2 273.2 L494.1 272.4 L494.1 272.4 L494.0 271.5 L494.0 271.5 L493.8 270.7 L493.8 270.6 L493.7 269.8 L493.7 269.7 L493.6 268.9 L493.6 268.9 L493.6 268.8 L493.5 268.0 L493.5 268.0 L493.4 267.1 L493.3 267.1 L493.3 266.9 L493.3 266.2 L493.3 266.2 L493.2 265.3 L493.2 265.3 L493.2 265.2 L493.1 264.4 L493.1 264.4 L493.0 263.5 L493.0 263.5 L493.0 263.5 L492.9 262.6 L492.9 262.6 L492.9 262.2 L492.9 261.8 L492.9 261.7 L492.9 261.7 L492.8 260.9 L492.8 260.9 L492.7 260.0 L492.7 260.0 L492.7 259.1 L492.7 259.1 L492.6 258.3 L492.6 258.3 L492.6 257.9 L492.6 257.4 L492.6 257.4 L492.6 256.6 L492.6 256.5 L492.5 256.0 L492.5 255.7 L492.5 255.7 L492.5 255.6 L492.5 254.9 L492.5 254.9 L492.5 254.7 L492.5 254.1 L492.5 254.0 L492.5 253.2 L492.5 253.2 L492.4 252.4 L492.4 252.3 L492.4 252.1 L492.5 251.5 L492.5 251.4 L492.5 250.6 L492.5 250.6 L492.5 250.0 L492.5 249.7 L492.5 249.7 L492.5 249.1 L492.5 248.8 L492.5 248.8 L492.5 247.9 L492.5 247.9 L492.5 247.3 L492.6 246.6 L492.8 246.0 L493.2 245.4 L493.6 244.9 L494.1 244.4 L494.7 244.1 L495.4 243.9 L496.0 243.9 L512.0 243.9 L528.6 243.9 L534.6 243.9 L539.1 243.8 L542.8 243.8 L546.0 243.8 L548.8 243.7 L551.4 243.7 L553.9 243.6 L556.1 243.5 L558.2 243.4 L560.2 243.3 L562.1 243.2 L563.8 243.1 L565.6 243.0 L567.2 242.9 L568.8 242.7 L570.3 242.6 L571.7 242.4 L573.2 242.3 L574.5 242.1 L574.6 242.1 L575.9 241.9 L575.9 241.9 L577.1 241.7 L577.2 241.7 L578.4 241.5 L578.4 241.5 L579.6 241.3 L579.6 241.3 L580.8 241.1 L580.8 241.1 L581.9 240.9 L581.9 240.9 L583.0 240.7 L583.1 240.7 L584.1 240.4 L584.2 240.4 L585.2 240.2 L585.2 240.2 L586.2 239.9 L586.2 239.9 L587.2 239.7 L587.2 239.6 L588.2 239.4 L588.2 239.4 L589.2 239.1 L589.2 239.1 L590.1 238.8 L590.1 238.8 L591.0 238.5 L591.0 238.5 L591.9 238.2 L591.9 238.2 L592.8 237.9 L592.8 237.9 L593.6 237.6 L593.6 237.6 L594.5 237.3 L594.5 237.3 L595.3 236.9 L595.3 236.9 L596.1 236.6 L596.1 236.6 L596.8 236.3 L596.9 236.3 L597.6 235.9 L597.6 235.9 L598.3 235.6 L598.3 235.5 L599.0 235.2 L599.1 235.2 L599.7 234.8 L599.8 234.8 L600.4 234.4 L600.5 234.4 L601.1 234.1 L601.1 234.0 L601.8 233.7 L601.8 233.7 L602.4 233.3 L602.4 233.3 L603.0 232.9 L603.1 232.9 L603.6 232.5 L603.7 232.4 L604.2 232.0 L604.3 232.0 L604.8 231.6 L604.8 231.6 L605.4 231.2 L605.4 231.2 L605.9 230.8 L606.0 230.7 L606.5 230.3 L606.5 230.3 L607.0 229.9 L607.0 229.9 L607.5 229.4 L607.5 229.4 L608.0 229.0 L608.0 229.0 L608.5 228.5 L608.5 228.5 L608.9 228.1 L609.0 228.0 L609.4 227.6 L609.4 227.6 L609.8 227.1 L609.9 227.1 L610.3 226.6 L610.3 226.6 L610.7 226.2 L610.7 226.1 L611.1 225.7 L611.1 225.7 L611.5 225.2 L611.5 225.2 L611.8 224.7 L611.9 224.7 L612.2 224.2 L612.2 224.2 L612.6 223.7 L612.6 223.7 L612.9 223.2 L612.9 223.2 L613.2 222.7 L613.2 222.7 L613.5 222.2 L613.6 222.2 L613.8 221.7 L613.9 221.6 L614.1 221.2 L614.1 221.1 L614.4 220.6 L614.4 220.6 L614.7 220.1 L614.7 220.1 L614.9 219.6 L614.9 219.6 L615.2 219.1 L615.2 219.0 L615.4 218.5 L615.4 218.5 L615.6 218.0 L615.6 218.0 L615.8 217.5 L615.8 217.4 L616.0 216.9 L616.0 216.9 L616.2 216.4 L616.2 216.4 L616.4 215.9 L616.4 215.8 L616.5 215.3 L616.5 215.3 L616.7 214.8 L616.7 214.8 L616.8 214.3 L616.8 214.2 L616.9 213.7 L616.9 213.7 L617.0 213.2 L617.0 213.2 L617.1 212.7 L617.1 212.6 L617.2 212.1 L617.2 212.1 L617.3 211.6 L617.3 211.5 L617.4 211.0 L617.4 211.0 L617.4 210.5 L617.4 210.5 L617.4 210.0 L617.4 209.9 L617.5 209.5 L617.5 209.4 L617.5 208.9 L617.5 208.9 L617.5 208.4 L617.5 208.4 L617.5 207.9 L617.5 207.9 L617.5 207.4 L617.5 207.4 L617.4 206.9 L617.4 206.9 L617.4 206.4 L617.4 206.3 L617.4 205.8 L617.4 205.8 L617.3 205.3 L617.3 205.3 L617.2 204.8 L617.2 204.7 L617.1 204.2 L617.1 204.2 L617.0 203.7 L617.0 203.7 L616.9 203.1 L616.9 203.1 L616.8 202.6 L616.8 202.6 L616.7 202.1 L616.7 202.0 L616.5 201.5 L616.5 201.5 L616.4 201.0 L616.4 201.0 L616.2 200.5 L616.2 200.4 L616.0 199.9 L616.0 199.9 L615.8 199.4 L615.8 199.4 L615.6 198.9 L615.6 198.8 L615.4 198.3 L615.4 198.3 L615.2 197.8 L615.2 197.8 L614.9 197.3 L614.9 197.2 L614.7 196.8 L614.7 196.7 L614.4 196.2 L614.4 196.2 L614.1 195.7 L614.1 195.7 L613.9 195.2 L613.8 195.2 L613.6 194.7 L613.5 194.7 L613.2 194.2 L613.2 194.1 L612.9 193.7 L612.9 193.6 L612.6 193.2 L612.6 193.1 L612.2 192.7 L612.2 192.6 L611.9 192.2 L611.8 192.1 L611.5 191.7 L611.5 191.6 L611.1 191.2 L611.1 191.2 L610.7 190.7 L610.7 190.7 L610.3 190.2 L610.3 190.2 L609.9 189.7 L609.8 189.7 L609.4 189.3 L609.4 189.2 L609.0 188.8 L608.9 188.8 L608.5 188.3 L608.5 188.3 L608.0 187.9 L608.0 187.9 L607.5 187.4 L607.5 187.4 L607.0 187.0 L607.0 187.0 L606.5 186.5 L606.5 186.5 L606.0 186.1 L605.9 186.1 L605.4 185.7 L605.4 185.6 L604.8 185.2 L604.8 185.2 L604.3 184.8 L604.2 184.8 L603.7 184.4 L603.6 184.4 L603.1 184.0 L603.0 184.0 L602.4 183.6 L602.4 183.6 L601.8 183.2 L601.8 183.2 L601.1 182.8 L601.1 182.8 L600.5 182.4 L600.4 182.4 L599.8 182.0 L599.7 182.0 L599.1 181.7 L599.0 181.6 L598.3 181.3 L598.3 181.3 L597.6 180.9 L597.6 180.9 L596.9 180.6 L596.8 180.6 L596.1 180.2 L596.1 180.2 L595.3 179.9 L595.3 179.9 L594.5 179.6 L594.5 179.6 L593.6 179.2 L593.6 179.2 L592.8 178.9 L592.8 178.9 L591.9 178.6 L591.9 178.6 L591.0 178.3 L591.0 178.3 L590.1 178.0 L590.1 178.0 L589.2 177.7 L589.2 177.7 L588.2 177.5 L588.2 177.5 L587.2 177.2 L587.2 177.2 L586.2 176.9 L586.2 176.9 L585.2 176.7 L585.2 176.7 L584.2 176.4 L584.1 176.4 L583.1 176.2 L583.0 176.2 L581.9 176.0 L581.9 176.0 L580.8 175.7 L580.8 175.7 L579.6 175.5 L579.6 175.5 L578.4 175.3 L578.4 175.3 L577.2 175.1 L577.1 175.1 L575.9 174.9 L575.9 174.9 L574.6 174.7 L574.5 174.7 L573.2 174.6 L571.8 174.4 L570.3 174.3 L568.8 174.1 L567.2 174.0 L565.6 173.8 L563.9 173.7 L562.1 173.6 L560.2 173.5 L558.2 173.4 L556.1 173.3 L553.9 173.3 L551.5 173.2 L548.9 173.1 L546.0 173.1 L542.8 173.0 L539.1 173.0 L534.6 173.0 L528.6 173.0 L512.1 173.0 L495.5 173.0 L489.5 173.0 L485.0 173.0 L481.3 173.0 L478.1 173.1 L475.3 173.1 L472.7 173.2 L470.2 173.3 L468.0 173.3 L465.9 173.4 L463.9 173.5 L462.0 173.6 L460.3 173.7 L458.5 173.8 L456.9 174.0 L455.3 174.1 L453.8 174.3 L452.4 174.4 L450.9 174.6 L449.6 174.7 L449.5 174.7 L448.2 174.9 L448.2 174.9 L447.0 175.1 L446.9 175.1 L445.7 175.3 L445.7 175.3 L444.5 175.5 L444.5 175.5 L443.3 175.7 L443.3 175.7 L442.2 176.0 L442.2 176.0 L441.1 176.2 L441.0 176.2 L440.0 176.4 L439.9 176.4 L438.9 176.7 L438.9 176.7 L437.9 176.9 L437.9 176.9 L436.9 177.2 L436.9 177.2 L435.9 177.5 L435.9 177.5 L434.9 177.7 L434.9 177.7 L434.0 178.0 L434.0 178.0 L433.1 178.3 L433.1 178.3 L432.2 178.6 L432.2 178.6 L431.3 178.9 L431.3 178.9 L430.5 179.2 L430.5 179.2 L429.6 179.6 L429.6 179.6 L428.8 179.9 L428.8 179.9 L428.0 180.2 L428.0 180.2 L427.3 180.6 L427.2 180.6 L426.5 180.9 L426.5 180.9 L425.8 181.3 L425.8 181.3 L425.1 181.6 L425.0 181.7 L424.4 182.0 L424.3 182.0 L423.7 182.4 L423.6 182.4 L423.0 182.8 L423.0 182.8 L422.3 183.2 L422.3 183.2 L421.7 183.6 L421.7 183.6 L421.1 184.0 L421.0 184.0 L420.5 184.4 L420.4 184.4 L419.9 184.8 L419.8 184.8 L419.3 185.2 L419.3 185.2 L418.7 185.6 L418.7 185.7 L418.2 186.1 L418.1 186.1 L417.6 186.5 L417.6 186.5 L417.1 187.0 L417.1 187.0 L416.6 187.4 L416.6 187.4 L416.1 187.9 L416.1 187.9 L415.6 188.3 L415.6 188.3 L415.2 188.8 L415.1 188.8 L414.7 189.2 L414.7 189.3 L414.3 189.7 L414.2 189.7 L413.8 190.2 L413.8 190.2 L413.4 190.7 L413.4 190.7 L413.0 191.2 L413.0 191.2 L412.6 191.6 L412.6 191.7 L412.3 192.1 L412.2 192.2 L411.9 192.6 L411.9 192.7 L411.5 193.1 L411.5 193.2 L411.2 193.6 L411.2 193.7 L410.9 194.1 L410.9 194.2 L410.6 194.7 L410.5 194.7 L410.3 195.2 L410.2 195.2 L410.0 195.7 L410.0 195.7 L409.7 196.2 L409.7 196.2 L409.4 196.7 L409.4 196.8 L409.2 197.2 L409.2 197.3 L408.9 197.8 L408.9 197.8 L408.7 198.3 L408.7 198.3 L408.5 198.8 L408.5 198.9 L408.3 199.4 L408.3 199.4 L408.1 199.9 L408.1 199.9 L407.9 200.4 L407.9 200.5 L407.7 201.0 L407.7 201.0 L407.6 201.5 L407.6 201.5 L407.4 202.0 L407.4 202.1 L407.3 202.6 L407.3 202.6 L407.2 203.1 L407.2 203.1 L407.1 203.7 L407.1 203.7 L407.0 204.2 L407.0 204.2 L406.9 204.7 L406.9 204.8 L406.8 205.3 L406.8 205.3 L406.7 205.8 L406.7 205.8 L406.7 206.3 L406.7 206.4 L406.7 206.9 L406.7 206.9 L406.6 207.4 L406.6 207.4 L406.6 207.9 L406.6 207.9 L406.6 208.4 L406.6 208.4 L406.6 208.9 L406.6 208.9 L406.6 209.4 L406.6 209.5 L406.7 209.9 L406.7 210.0 L406.7 210.5 L406.7 210.5 L406.7 211.0 L406.7 211.0 L406.8 211.5 L406.8 211.6 L406.9 212.1 L406.9 212.1 L407.0 212.6 L407.0 212.7 L407.1 213.2 L407.1 213.2 L407.2 213.7 L407.2 213.7 L407.3 214.2 L407.3 214.3 L407.4 214.8 L407.4 214.8 L407.6 215.3 L407.6 215.3 L407.7 215.8 L407.7 215.9 L407.9 216.4 L407.9 216.4 L408.1 216.9 L408.1 216.9 L408.3 217.4 L408.3 217.5 L408.5 218.0 L408.5 218.0 L408.7 218.5 L408.7 218.5 L408.9 219.0 L408.9 219.1 L409.2 219.6 L409.2 219.6 L409.4 220.1 L409.4 220.1 L409.7 220.6 L409.7 220.6 L410.0 221.1 L410.0 221.2 L410.2 221.6 L410.3 221.7 L410.5 222.2 L410.6 222.2 L410.9 222.7 L410.9 222.7 L411.2 223.2 L411.2 223.2 L411.5 223.7 L411.5 223.7 L411.9 224.2 L411.9 224.2 L412.2 224.7 L412.3 224.7 L412.6 225.2 L412.6 225.2 L413.0 225.7 L413.0 225.7 L413.4 226.1 L413.4 226.2 L413.8 226.6 L413.8 226.6 L414.2 227.1 L414.3 227.1 L414.7 227.6 L414.7 227.6 L415.1 228.0 L415.2 228.1 L415.6 228.5 L415.6 228.5 L416.1 229.0 L416.1 229.0 L416.6 229.4 L416.6 229.4 L417.1 229.9 L417.1 229.9 L417.6 230.3 L417.6 230.3 L418.1 230.7 L418.2 230.8 L418.7 231.2 L418.7 231.2 L419.3 231.6 L419.3 231.6 L419.8 232.0 L419.9 232.0 L420.4 232.4 L420.5 232.5 L421.0 232.9 L421.1 232.9 L421.7 233.3 L421.7 233.3 L422.3 233.7 L422.3 233.7 L423.0 234.0 L423.0 234.1 L423.6 234.4 L423.7 234.4 L424.3 234.8 L424.4 234.8 L425.0 235.2 L425.1 235.2 L425.8 235.5 L425.8 235.6 L426.5 235.9 L426.5 235.9 L427.2 236.3 L427.3 236.3 L428.0 236.6 L428.0 236.6 L428.8 236.9 L428.8 236.9 L429.6 237.3 L429.6 237.3 L430.5 237.6 L430.5 237.6 L431.3 237.9 L431.3 237.9 L432.2 238.2 L432.2 238.2 L433.1 238.5 L433.1 238.5 L434.0 238.8 L434.0 238.8 L434.9 239.1 L434.9 239.1 L435.9 239.4 L435.9 239.4 L436.9 239.6 L436.9 239.7 L437.9 239.9 L437.9 239.9 L438.9 240.2 L438.9 240.2 L439.9 240.4 L440.0 240.4 L441.0 240.7 L441.1 240.7 L442.2 240.9 L442.2 240.9 L443.3 241.1 L443.3 241.1 L444.5 241.3 L444.5 241.3 L445.7 241.5 L445.7 241.5 L446.9 241.7 L447.0 241.7 L448.2 241.9 L448.2 241.9 L449.5 242.1 L449.6 242.1 L450.9 242.3 L452.3 242.4 L453.8 242.6 L455.3 242.7 L456.9 242.9 L458.5 243.0 L460.2 243.1 L462.0 243.2 L463.9 243.3 L465.9 243.4 L468.0 243.5 L470.2 243.6 L472.6 243.7 L475.2 243.7 L478.1 243.8 L481.3 243.8 L481.9 243.8 L482.5 243.9 L483.2 244.1Z" fill="#e9bd62" stroke="#2e2a22" stroke-width="1.1" stroke-linejoin="round"/>
<text x="420.59" y="200.5" textLength="181.91" lengthAdjust="spacingAndGlyphs" font-size="19.5" fill="#151515" font-weight="normal">Novel Framework for</text>
<text x="427.5" y="226.2" textLength="167.91" lengthAdjust="spacingAndGlyphs" font-size="19.5" fill="#151515" font-weight="normal">Sample Complexity</text>
<text x="573.77" y="279.9" textLength="140.62" lengthAdjust="spacingAndGlyphs" font-size="19.5" fill="#151515" font-weight="normal">Custom-Tailored</text>
<text x="546.56" y="305.8" textLength="194.37" lengthAdjust="spacingAndGlyphs" font-size="19.5" fill="#151515" font-weight="normal">Theoretical Machinery</text>
<text x="688.94" y="197.5" textLength="39.82" lengthAdjust="spacingAndGlyphs" font-size="19.5" fill="#fff" font-weight="bold">New</text>
<text x="685.12" y="223.3" textLength="48.83" lengthAdjust="spacingAndGlyphs" font-size="19.5" fill="#fff" font-weight="bold">Tools</text>
<!-- dashed arrows -->
<path d="M113.3 133.6 L139.7 168.9 L139.7 176.9 L122.5 168.9 L104.3 168.9 L87.1 176.9 L87.1 168.9Z" fill="#b3b3b3"/>
<rect x="96.9" y="179.6" width="32.8" height="10.1" fill="#b3b3b3"/>
<rect x="96.9" y="200.9" width="32.8" height="10.1" fill="#b3b3b3"/>
<rect x="96.9" y="222.2" width="32.8" height="10.1" fill="#b3b3b3"/>
<rect x="96.9" y="243.5" width="32.8" height="10.1" fill="#b3b3b3"/>
<rect x="96.9" y="264.8" width="32.8" height="10.1" fill="#b3b3b3"/>
<rect x="96.9" y="286.1" width="32.8" height="10.1" fill="#b3b3b3"/>
<rect x="96.9" y="307.4" width="32.8" height="10.1" fill="#b3b3b3"/>
<rect x="96.9" y="328.7" width="32.8" height="10.1" fill="#b3b3b3"/>
<rect x="96.9" y="350.0" width="32.8" height="10.1" fill="#b3b3b3"/>
<rect x="96.9" y="371.3" width="32.8" height="10.1" fill="#b3b3b3"/>
<rect x="96.9" y="392.6" width="32.8" height="10.1" fill="#b3b3b3"/>
<rect x="96.9" y="413.9" width="32.8" height="10.1" fill="#b3b3b3"/>
<path d="M1045.6 133.6 L1072.0 168.9 L1072.0 176.9 L1054.8 168.9 L1036.6 168.9 L1019.3999999999999 176.9 L1019.3999999999999 168.9Z" fill="#b3b3b3"/>
<rect x="1029.1999999999998" y="179.6" width="32.8" height="10.1" fill="#b3b3b3"/>
<rect x="1029.1999999999998" y="200.9" width="32.8" height="10.1" fill="#b3b3b3"/>
<rect x="1029.1999999999998" y="222.2" width="32.8" height="10.1" fill="#b3b3b3"/>
<rect x="1029.1999999999998" y="243.5" width="32.8" height="10.1" fill="#b3b3b3"/>
<rect x="1029.1999999999998" y="264.8" width="32.8" height="10.1" fill="#b3b3b3"/>
<rect x="1029.1999999999998" y="286.1" width="32.8" height="10.1" fill="#b3b3b3"/>
<rect x="1029.1999999999998" y="307.4" width="32.8" height="10.1" fill="#b3b3b3"/>
<rect x="1029.1999999999998" y="328.7" width="32.8" height="10.1" fill="#b3b3b3"/>
<rect x="1029.1999999999998" y="350.0" width="32.8" height="10.1" fill="#b3b3b3"/>
<rect x="1029.1999999999998" y="371.3" width="32.8" height="10.1" fill="#b3b3b3"/>
<rect x="1029.1999999999998" y="392.6" width="32.8" height="10.1" fill="#b3b3b3"/>
<rect x="1029.1999999999998" y="413.9" width="32.8" height="10.1" fill="#b3b3b3"/>
<rect x="35.4" y="274.5" width="156" height="54.7" fill="#fff" stroke="#a9a9a9" stroke-width="2.2"/>
<text x="43.61" y="293.8" textLength="137.76" lengthAdjust="spacingAndGlyphs" font-size="19.5" fill="#585858" font-weight="normal">New Challenges</text>
<text x="59.22" y="320.5" textLength="107.7" lengthAdjust="spacingAndGlyphs" font-size="19.5" fill="#585858" font-weight="normal">and Settings</text>
<rect x="925.3" y="273.8" width="240.8" height="54.5" fill="#fff" stroke="#a9a9a9" stroke-width="2.2"/>
<text x="934.13" y="295.5" textLength="222.07" lengthAdjust="spacingAndGlyphs" font-size="19.5" fill="#585858" font-weight="normal">Deeper Understanding of</text>
<text x="945.88" y="321.7" textLength="198.81" lengthAdjust="spacingAndGlyphs" font-size="19.5" fill="#585858" font-weight="normal">Fundamental Problems</text>
</svg>
</body></html>
